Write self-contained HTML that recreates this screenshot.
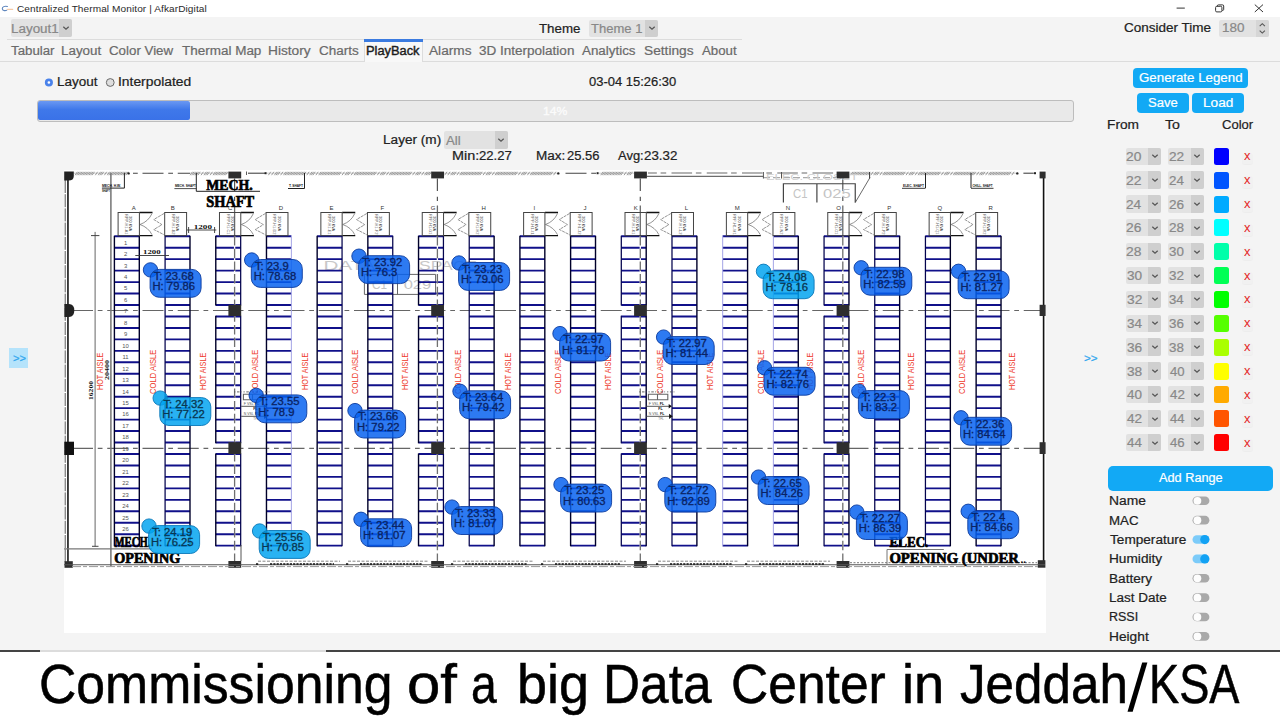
<!DOCTYPE html>
<html><head><meta charset="utf-8"><title>Centralized Thermal Monitor | AfkarDigital</title>
<style>
html,body{margin:0;padding:0;}
body{width:1280px;height:720px;overflow:hidden;background:#f4f4f4;font-family:"Liberation Sans",sans-serif;position:relative;}
.t{position:absolute;white-space:pre;transform-origin:0 50%;-webkit-text-stroke:0.2px;}
.ns{-webkit-text-stroke:0;}
.b{position:absolute;}
</style></head><body>
<div class="b" style="left:0.00px;top:0.00px;width:1280.00px;height:17.00px;background:#ffffff;"></div>
<span class="t ns" style="left:17.49px;top:3.96px;font-size:9.5px;line-height:9.5px;color:#2a2a2a;transform:scaleX(1.0600);letter-spacing:0.085px;">Centralized Thermal Monitor | AfkarDigital</span>
<svg class="b" style="left:0px;top:2px" width="16" height="14" viewBox="0 2 16 14"><path d="M7.4 6.5 C4.6 5.6 2.2 7 2.3 8.7 C2.4 10.5 4.9 11.1 6.7 10.3" fill="none" stroke="#5f86bd" stroke-width="1.1" stroke-linecap="round"/><path d="M7.6 9.4 L12.6 9.4" stroke="#f3b98a" stroke-width="1.3" stroke-linecap="round" opacity="0.75"/></svg>
<svg class="b" style="left:1160px;top:0px" width="120" height="17" viewBox="1160 0 120 17"><path d="M1176.6 8.1 H1184.8" stroke="#333" stroke-width="1"/><rect x="1215.6" y="6.3" width="6.3" height="5.6" fill="none" stroke="#333" stroke-width="1" rx="1.2"/><path d="M1217.3 6.3 V6 Q1217.3 4.9 1218.4 4.9 H1222.6 Q1223.7 4.9 1223.7 6 V9.4 Q1223.7 10.4 1222.6 10.4 H1222" fill="none" stroke="#333" stroke-width="1"/><path d="M1254.8 4.6 L1263 12 M1263 4.6 L1254.8 12" stroke="#333" stroke-width="1"/></svg>
<div class="b" style="left:11.00px;top:19.30px;width:61.30px;height:17.70px;background:#e2e2e2;border-radius:2px;"></div><div class="b" style="left:59.10px;top:19.30px;width:13.20px;height:17.70px;background:#cfcfcf;border-radius:0 2px 2px 0;"></div><svg class="b" style="left:61.70px;top:25.15px" width="8" height="6" viewBox="0 0 8 6"><path d="M1.3 1.8 L4 4.3 L6.7 1.8" fill="none" stroke="#555" stroke-width="1.2"/></svg><span class="t" style="left:10.90px;top:22.79px;font-size:12px;line-height:12px;color:#888;transform:scaleX(1.1183);">Layout1</span>
<span class="t" style="left:539.20px;top:22.59px;font-size:12px;line-height:12px;color:#222;transform:scaleX(1.1082);">Theme</span>
<div class="b" style="left:588.75px;top:19.50px;width:69.50px;height:17.50px;background:#e2e2e2;border-radius:2px;"></div><div class="b" style="left:645.25px;top:19.50px;width:13.00px;height:17.50px;background:#cfcfcf;border-radius:0 2px 2px 0;"></div><svg class="b" style="left:647.75px;top:25.25px" width="8" height="6" viewBox="0 0 8 6"><path d="M1.3 1.8 L4 4.3 L6.7 1.8" fill="none" stroke="#555" stroke-width="1.2"/></svg><span class="t" style="left:590.96px;top:22.89px;font-size:12px;line-height:12px;color:#888;transform:scaleX(1.0860);">Theme 1</span>
<span class="t" style="left:1124.31px;top:22.24px;font-size:12px;line-height:12px;color:#222;transform:scaleX(1.1257);">Consider Time</span>
<div class="b" style="left:1219.30px;top:19.60px;width:50.00px;height:17.30px;background:#e2e2e2;border-radius:2px;"></div>
<div class="b" style="left:1255.80px;top:19.60px;width:13.50px;height:17.30px;background:#d6d6d6;border-radius:0 2px 2px 0;"></div>
<span class="t" style="left:1221.58px;top:22.34px;font-size:12px;line-height:12px;color:#888;transform:scaleX(1.1213);">180</span>
<svg class="b" style="left:1256px;top:19px" width="13" height="18" viewBox="0 0 13 18"><path d="M3.7 7.2 L6.3 4.7 L8.9 7.2 M3.7 11.6 L6.3 14.1 L8.9 11.6" fill="none" stroke="#555" stroke-width="1.1"/></svg>
<div class="b" style="left:7.00px;top:39.00px;width:735.00px;height:1.00px;background:#dcdcdc;"></div>
<div class="b" style="left:0.00px;top:61.00px;width:1280.00px;height:1.00px;background:#dcdcdc;"></div>
<div class="b" style="left:364.30px;top:39.00px;width:59.00px;height:23.00px;background:#f8f8f8;border-left:1px solid #dcdcdc;border-right:1px solid #dcdcdc;box-sizing:border-box;"></div>
<div class="b" style="left:364.30px;top:39.20px;width:59.00px;height:2.50px;background:#3b7be0;"></div>
<span class="t" style="left:10.70px;top:44.59px;font-size:12px;line-height:12px;color:#6a6a6a;transform:scaleX(1.1057);">Tabular</span>
<span class="t" style="left:61.40px;top:44.59px;font-size:12px;line-height:12px;color:#6a6a6a;transform:scaleX(1.1157);">Layout</span>
<span class="t" style="left:109.32px;top:44.59px;font-size:12px;line-height:12px;color:#6a6a6a;transform:scaleX(1.1097);">Color View</span>
<span class="t" style="left:182.20px;top:44.59px;font-size:12px;line-height:12px;color:#6a6a6a;transform:scaleX(1.1228);">Thermal Map</span>
<span class="t" style="left:268.38px;top:44.59px;font-size:12px;line-height:12px;color:#6a6a6a;transform:scaleX(1.1424);">History</span>
<span class="t" style="left:318.82px;top:44.59px;font-size:12px;line-height:12px;color:#6a6a6a;transform:scaleX(1.1224);">Charts</span>
<span class="t" style="left:366.45px;top:44.59px;font-size:12px;line-height:12px;color:#1c1c1c;transform:scaleX(1.0702);-webkit-text-stroke:0.4px;">PlayBack</span>
<span class="t" style="left:428.97px;top:44.59px;font-size:12px;line-height:12px;color:#6a6a6a;transform:scaleX(1.1389);">Alarms</span>
<span class="t" style="left:478.99px;top:44.59px;font-size:12px;line-height:12px;color:#6a6a6a;transform:scaleX(1.1260);">3D Interpolation</span>
<span class="t" style="left:582.47px;top:44.59px;font-size:12px;line-height:12px;color:#6a6a6a;transform:scaleX(1.1144);">Analytics</span>
<span class="t" style="left:643.88px;top:44.59px;font-size:12px;line-height:12px;color:#6a6a6a;transform:scaleX(1.1444);">Settings</span>
<span class="t" style="left:702.47px;top:44.59px;font-size:12px;line-height:12px;color:#6a6a6a;transform:scaleX(1.1041);">About</span>
<svg class="b" style="left:40px;top:74px" width="80" height="18" viewBox="40 74 80 18"><circle cx="48.9" cy="82.5" r="2.7" fill="#fff" stroke="#4a82ea" stroke-width="2.7"/><circle cx="110.25" cy="82.5" r="3.9" fill="#dedede" stroke="#6a6a6a" stroke-width="1"/></svg>
<span class="t" style="left:56.64px;top:75.84px;font-size:12px;line-height:12px;color:#222;transform:scaleX(1.1228);">Layout</span>
<span class="t" style="left:118.12px;top:75.84px;font-size:12px;line-height:12px;color:#222;transform:scaleX(1.1545);">Interpolated</span>
<span class="t" style="left:588.74px;top:75.84px;font-size:12px;line-height:12px;color:#222;transform:scaleX(1.0808);">03-04 15:26:30</span>
<div class="b" style="left:37.00px;top:100.00px;width:1036.50px;height:21.50px;background:#e9e9e9;border:1px solid #bdbdbd;border-radius:3px;box-sizing:border-box;"></div>
<div class="b" style="left:38.00px;top:101.30px;width:152.00px;height:19.00px;background:linear-gradient(#6a98f2 0%,#3f78ea 45%,#3a72e8 100%);border-radius:2px;"></div>
<span class="t" style="left:542.82px;top:105.57px;font-size:11.5px;line-height:11.5px;color:#fbfbfb;transform:scaleX(1.0584);-webkit-text-stroke:0.35px;">14%</span>
<span class="t" style="left:383.38px;top:134.09px;font-size:12px;line-height:12px;color:#222;transform:scaleX(1.1338);">Layer (m)</span>
<div class="b" style="left:444.25px;top:131.25px;width:63.50px;height:17.25px;background:#e2e2e2;border-radius:2px;"></div><div class="b" style="left:494.75px;top:131.25px;width:13.00px;height:17.25px;background:#cfcfcf;border-radius:0 2px 2px 0;"></div><svg class="b" style="left:497.25px;top:136.88px" width="8" height="6" viewBox="0 0 8 6"><path d="M1.3 1.8 L4 4.3 L6.7 1.8" fill="none" stroke="#555" stroke-width="1.2"/></svg><span class="t" style="left:446.22px;top:134.52px;font-size:12px;line-height:12px;color:#888;transform:scaleX(1.0991);">All</span>
<span class="t" style="left:452.07px;top:150.34px;font-size:12px;line-height:12px;color:#222;transform:scaleX(1.2020);">Min:</span>
<span class="t" style="left:479.34px;top:150.34px;font-size:12px;line-height:12px;color:#222;transform:scaleX(1.0929);">22.27</span>
<span class="t" style="left:536.39px;top:150.34px;font-size:12px;line-height:12px;color:#222;transform:scaleX(1.1286);">Max:</span>
<span class="t" style="left:566.85px;top:150.34px;font-size:12px;line-height:12px;color:#222;transform:scaleX(1.0814);">25.56</span>
<span class="t" style="left:617.97px;top:150.34px;font-size:12px;line-height:12px;color:#222;transform:scaleX(1.0804);">Avg:</span>
<span class="t" style="left:644.33px;top:150.34px;font-size:12px;line-height:12px;color:#222;transform:scaleX(1.1102);">23.32</span>
<div class="b" style="left:9.25px;top:348.00px;width:18.75px;height:19.70px;background:#b5e3fb;"></div>
<span class="t" style="left:12.55px;top:352.69px;font-size:11px;line-height:11px;color:#2ea5ee;transform:scaleX(1.0197);">&gt;&gt;</span>
<span class="t" style="left:1084.12px;top:352.69px;font-size:11px;line-height:11px;color:#2ea5ee;transform:scaleX(1.0622);">&gt;&gt;</span>
<div class="b" style="left:1133.40px;top:68.00px;width:114.60px;height:20.40px;background:#12a9f5;border-radius:4px;"></div>
<span class="t" style="left:1139.03px;top:72.24px;font-size:12px;line-height:12px;color:#fff;transform:scaleX(1.1083);">Generate Legend</span>
<div class="b" style="left:1137.30px;top:92.60px;width:51.80px;height:20.10px;background:#12a9f5;border-radius:4px;"></div>
<span class="t" style="left:1148.41px;top:96.54px;font-size:12px;line-height:12px;color:#fff;transform:scaleX(1.0885);">Save</span>
<div class="b" style="left:1192.00px;top:92.60px;width:52.00px;height:20.10px;background:#12a9f5;border-radius:4px;"></div>
<span class="t" style="left:1202.88px;top:96.54px;font-size:12px;line-height:12px;color:#fff;transform:scaleX(1.1348);">Load</span>
<span class="t" style="left:1107.47px;top:118.84px;font-size:12px;line-height:12px;color:#222;transform:scaleX(1.1441);">From</span>
<span class="t" style="left:1164.88px;top:118.84px;font-size:12px;line-height:12px;color:#222;transform:scaleX(1.1764);">To</span>
<span class="t" style="left:1221.74px;top:118.84px;font-size:12px;line-height:12px;color:#222;transform:scaleX(1.0873);">Color</span>
<div class="b" style="left:1125.50px;top:147.60px;width:35.50px;height:17.20px;background:#e2e2e2;border-radius:2px;"></div><div class="b" style="left:1148.00px;top:147.60px;width:13.00px;height:17.20px;background:#cfcfcf;border-radius:0 2px 2px 0;"></div><svg class="b" style="left:1150.50px;top:153.20px" width="8" height="6" viewBox="0 0 8 6"><path d="M1.3 1.8 L4 4.3 L6.7 1.8" fill="none" stroke="#555" stroke-width="1.2"/></svg><span class="t" style="left:1126.41px;top:150.84px;font-size:12px;line-height:12px;color:#888;transform:scaleX(1.1486);">20</span>
<div class="b" style="left:1168.00px;top:147.60px;width:35.90px;height:17.20px;background:#e2e2e2;border-radius:2px;"></div><div class="b" style="left:1190.90px;top:147.60px;width:13.00px;height:17.20px;background:#cfcfcf;border-radius:0 2px 2px 0;"></div><svg class="b" style="left:1193.40px;top:153.20px" width="8" height="6" viewBox="0 0 8 6"><path d="M1.3 1.8 L4 4.3 L6.7 1.8" fill="none" stroke="#555" stroke-width="1.2"/></svg><span class="t" style="left:1169.11px;top:150.84px;font-size:12px;line-height:12px;color:#888;transform:scaleX(1.1367);">22</span>
<div class="b" style="left:1213.90px;top:147.80px;width:14.80px;height:17.00px;background:#0000ff;border-radius:2.5px;"></div>
<div class="b" style="left:1241.70px;top:152.60px;width:11.00px;height:11.70px;background:#f1f1f1;border-radius:3px;box-shadow:0 1px 1px rgba(0,0,0,0.03);"></div>
<span class="t ns" style="left:1244.05px;top:150.22px;font-size:12.5px;line-height:12.5px;color:#e42828;transform:scaleX(1.0376);">x</span>
<div class="b" style="left:1125.50px;top:171.46px;width:35.50px;height:17.20px;background:#e2e2e2;border-radius:2px;"></div><div class="b" style="left:1148.00px;top:171.46px;width:13.00px;height:17.20px;background:#cfcfcf;border-radius:0 2px 2px 0;"></div><svg class="b" style="left:1150.50px;top:177.06px" width="8" height="6" viewBox="0 0 8 6"><path d="M1.3 1.8 L4 4.3 L6.7 1.8" fill="none" stroke="#555" stroke-width="1.2"/></svg><span class="t" style="left:1126.40px;top:174.70px;font-size:12px;line-height:12px;color:#888;transform:scaleX(1.1614);">22</span>
<div class="b" style="left:1168.00px;top:171.46px;width:35.90px;height:17.20px;background:#e2e2e2;border-radius:2px;"></div><div class="b" style="left:1190.90px;top:171.46px;width:13.00px;height:17.20px;background:#cfcfcf;border-radius:0 2px 2px 0;"></div><svg class="b" style="left:1193.40px;top:177.06px" width="8" height="6" viewBox="0 0 8 6"><path d="M1.3 1.8 L4 4.3 L6.7 1.8" fill="none" stroke="#555" stroke-width="1.2"/></svg><span class="t" style="left:1169.13px;top:174.70px;font-size:12px;line-height:12px;color:#888;transform:scaleX(1.1136);">24</span>
<div class="b" style="left:1213.90px;top:171.66px;width:14.80px;height:17.00px;background:#0055ff;border-radius:2.5px;"></div>
<div class="b" style="left:1241.70px;top:176.46px;width:11.00px;height:11.70px;background:#f1f1f1;border-radius:3px;box-shadow:0 1px 1px rgba(0,0,0,0.03);"></div>
<span class="t ns" style="left:1244.05px;top:174.08px;font-size:12.5px;line-height:12.5px;color:#e42828;transform:scaleX(1.0376);">x</span>
<div class="b" style="left:1125.50px;top:195.32px;width:35.50px;height:17.20px;background:#e2e2e2;border-radius:2px;"></div><div class="b" style="left:1148.00px;top:195.32px;width:13.00px;height:17.20px;background:#cfcfcf;border-radius:0 2px 2px 0;"></div><svg class="b" style="left:1150.50px;top:200.92px" width="8" height="6" viewBox="0 0 8 6"><path d="M1.3 1.8 L4 4.3 L6.7 1.8" fill="none" stroke="#555" stroke-width="1.2"/></svg><span class="t" style="left:1126.41px;top:198.56px;font-size:12px;line-height:12px;color:#888;transform:scaleX(1.1378);">24</span>
<div class="b" style="left:1168.00px;top:195.32px;width:35.90px;height:17.20px;background:#e2e2e2;border-radius:2px;"></div><div class="b" style="left:1190.90px;top:195.32px;width:13.00px;height:17.20px;background:#cfcfcf;border-radius:0 2px 2px 0;"></div><svg class="b" style="left:1193.40px;top:200.92px" width="8" height="6" viewBox="0 0 8 6"><path d="M1.3 1.8 L4 4.3 L6.7 1.8" fill="none" stroke="#555" stroke-width="1.2"/></svg><span class="t" style="left:1169.12px;top:198.56px;font-size:12px;line-height:12px;color:#888;transform:scaleX(1.1296);">26</span>
<div class="b" style="left:1213.90px;top:195.52px;width:14.80px;height:17.00px;background:#00aaff;border-radius:2.5px;"></div>
<div class="b" style="left:1241.70px;top:200.32px;width:11.00px;height:11.70px;background:#f1f1f1;border-radius:3px;box-shadow:0 1px 1px rgba(0,0,0,0.03);"></div>
<span class="t ns" style="left:1244.05px;top:197.94px;font-size:12.5px;line-height:12.5px;color:#e42828;transform:scaleX(1.0376);">x</span>
<div class="b" style="left:1125.50px;top:219.18px;width:35.50px;height:17.20px;background:#e2e2e2;border-radius:2px;"></div><div class="b" style="left:1148.00px;top:219.18px;width:13.00px;height:17.20px;background:#cfcfcf;border-radius:0 2px 2px 0;"></div><svg class="b" style="left:1150.50px;top:224.78px" width="8" height="6" viewBox="0 0 8 6"><path d="M1.3 1.8 L4 4.3 L6.7 1.8" fill="none" stroke="#555" stroke-width="1.2"/></svg><span class="t" style="left:1126.40px;top:222.42px;font-size:12px;line-height:12px;color:#888;transform:scaleX(1.1541);">26</span>
<div class="b" style="left:1168.00px;top:219.18px;width:35.90px;height:17.20px;background:#e2e2e2;border-radius:2px;"></div><div class="b" style="left:1190.90px;top:219.18px;width:13.00px;height:17.20px;background:#cfcfcf;border-radius:0 2px 2px 0;"></div><svg class="b" style="left:1193.40px;top:224.78px" width="8" height="6" viewBox="0 0 8 6"><path d="M1.3 1.8 L4 4.3 L6.7 1.8" fill="none" stroke="#555" stroke-width="1.2"/></svg><span class="t" style="left:1169.12px;top:222.42px;font-size:12px;line-height:12px;color:#888;transform:scaleX(1.1290);">28</span>
<div class="b" style="left:1213.90px;top:219.38px;width:14.80px;height:17.00px;background:#00ffff;border-radius:2.5px;"></div>
<div class="b" style="left:1241.70px;top:224.18px;width:11.00px;height:11.70px;background:#f1f1f1;border-radius:3px;box-shadow:0 1px 1px rgba(0,0,0,0.03);"></div>
<span class="t ns" style="left:1244.05px;top:221.80px;font-size:12.5px;line-height:12.5px;color:#e42828;transform:scaleX(1.0376);">x</span>
<div class="b" style="left:1125.50px;top:243.04px;width:35.50px;height:17.20px;background:#e2e2e2;border-radius:2px;"></div><div class="b" style="left:1148.00px;top:243.04px;width:13.00px;height:17.20px;background:#cfcfcf;border-radius:0 2px 2px 0;"></div><svg class="b" style="left:1150.50px;top:248.64px" width="8" height="6" viewBox="0 0 8 6"><path d="M1.3 1.8 L4 4.3 L6.7 1.8" fill="none" stroke="#555" stroke-width="1.2"/></svg><span class="t" style="left:1126.40px;top:246.28px;font-size:12px;line-height:12px;color:#888;transform:scaleX(1.1536);">28</span>
<div class="b" style="left:1168.00px;top:243.04px;width:35.90px;height:17.20px;background:#e2e2e2;border-radius:2px;"></div><div class="b" style="left:1190.90px;top:243.04px;width:13.00px;height:17.20px;background:#cfcfcf;border-radius:0 2px 2px 0;"></div><svg class="b" style="left:1193.40px;top:248.64px" width="8" height="6" viewBox="0 0 8 6"><path d="M1.3 1.8 L4 4.3 L6.7 1.8" fill="none" stroke="#555" stroke-width="1.2"/></svg><span class="t" style="left:1169.29px;top:246.28px;font-size:12px;line-height:12px;color:#888;transform:scaleX(1.1109);">30</span>
<div class="b" style="left:1213.90px;top:243.24px;width:14.80px;height:17.00px;background:#00ffaa;border-radius:2.5px;"></div>
<div class="b" style="left:1241.70px;top:248.04px;width:11.00px;height:11.70px;background:#f1f1f1;border-radius:3px;box-shadow:0 1px 1px rgba(0,0,0,0.03);"></div>
<span class="t ns" style="left:1244.05px;top:245.66px;font-size:12.5px;line-height:12.5px;color:#e42828;transform:scaleX(1.0376);">x</span>
<div class="b" style="left:1125.50px;top:266.90px;width:35.50px;height:17.20px;background:#e2e2e2;border-radius:2px;"></div><div class="b" style="left:1148.00px;top:266.90px;width:13.00px;height:17.20px;background:#cfcfcf;border-radius:0 2px 2px 0;"></div><svg class="b" style="left:1150.50px;top:272.50px" width="8" height="6" viewBox="0 0 8 6"><path d="M1.3 1.8 L4 4.3 L6.7 1.8" fill="none" stroke="#555" stroke-width="1.2"/></svg><span class="t" style="left:1126.58px;top:270.14px;font-size:12px;line-height:12px;color:#888;transform:scaleX(1.1351);">30</span>
<div class="b" style="left:1168.00px;top:266.90px;width:35.90px;height:17.20px;background:#e2e2e2;border-radius:2px;"></div><div class="b" style="left:1190.90px;top:266.90px;width:13.00px;height:17.20px;background:#cfcfcf;border-radius:0 2px 2px 0;"></div><svg class="b" style="left:1193.40px;top:272.50px" width="8" height="6" viewBox="0 0 8 6"><path d="M1.3 1.8 L4 4.3 L6.7 1.8" fill="none" stroke="#555" stroke-width="1.2"/></svg><span class="t" style="left:1169.29px;top:270.14px;font-size:12px;line-height:12px;color:#888;transform:scaleX(1.1231);">32</span>
<div class="b" style="left:1213.90px;top:267.10px;width:14.80px;height:17.00px;background:#00ff55;border-radius:2.5px;"></div>
<div class="b" style="left:1241.70px;top:271.90px;width:11.00px;height:11.70px;background:#f1f1f1;border-radius:3px;box-shadow:0 1px 1px rgba(0,0,0,0.03);"></div>
<span class="t ns" style="left:1244.05px;top:269.52px;font-size:12.5px;line-height:12.5px;color:#e42828;transform:scaleX(1.0376);">x</span>
<div class="b" style="left:1125.50px;top:290.76px;width:35.50px;height:17.20px;background:#e2e2e2;border-radius:2px;"></div><div class="b" style="left:1148.00px;top:290.76px;width:13.00px;height:17.20px;background:#cfcfcf;border-radius:0 2px 2px 0;"></div><svg class="b" style="left:1150.50px;top:296.36px" width="8" height="6" viewBox="0 0 8 6"><path d="M1.3 1.8 L4 4.3 L6.7 1.8" fill="none" stroke="#555" stroke-width="1.2"/></svg><span class="t" style="left:1126.58px;top:294.00px;font-size:12px;line-height:12px;color:#888;transform:scaleX(1.1475);">32</span>
<div class="b" style="left:1168.00px;top:290.76px;width:35.90px;height:17.20px;background:#e2e2e2;border-radius:2px;"></div><div class="b" style="left:1190.90px;top:290.76px;width:13.00px;height:17.20px;background:#cfcfcf;border-radius:0 2px 2px 0;"></div><svg class="b" style="left:1193.40px;top:296.36px" width="8" height="6" viewBox="0 0 8 6"><path d="M1.3 1.8 L4 4.3 L6.7 1.8" fill="none" stroke="#555" stroke-width="1.2"/></svg><span class="t" style="left:1169.30px;top:294.00px;font-size:12px;line-height:12px;color:#888;transform:scaleX(1.1006);">34</span>
<div class="b" style="left:1213.90px;top:290.96px;width:14.80px;height:17.00px;background:#00ff00;border-radius:2.5px;"></div>
<div class="b" style="left:1241.70px;top:295.76px;width:11.00px;height:11.70px;background:#f1f1f1;border-radius:3px;box-shadow:0 1px 1px rgba(0,0,0,0.03);"></div>
<span class="t ns" style="left:1244.05px;top:293.38px;font-size:12.5px;line-height:12.5px;color:#e42828;transform:scaleX(1.0376);">x</span>
<div class="b" style="left:1125.50px;top:314.62px;width:35.50px;height:17.20px;background:#e2e2e2;border-radius:2px;"></div><div class="b" style="left:1148.00px;top:314.62px;width:13.00px;height:17.20px;background:#cfcfcf;border-radius:0 2px 2px 0;"></div><svg class="b" style="left:1150.50px;top:320.22px" width="8" height="6" viewBox="0 0 8 6"><path d="M1.3 1.8 L4 4.3 L6.7 1.8" fill="none" stroke="#555" stroke-width="1.2"/></svg><span class="t" style="left:1126.59px;top:317.86px;font-size:12px;line-height:12px;color:#888;transform:scaleX(1.1245);">34</span>
<div class="b" style="left:1168.00px;top:314.62px;width:35.90px;height:17.20px;background:#e2e2e2;border-radius:2px;"></div><div class="b" style="left:1190.90px;top:314.62px;width:13.00px;height:17.20px;background:#cfcfcf;border-radius:0 2px 2px 0;"></div><svg class="b" style="left:1193.40px;top:320.22px" width="8" height="6" viewBox="0 0 8 6"><path d="M1.3 1.8 L4 4.3 L6.7 1.8" fill="none" stroke="#555" stroke-width="1.2"/></svg><span class="t" style="left:1169.29px;top:317.86px;font-size:12px;line-height:12px;color:#888;transform:scaleX(1.1162);">36</span>
<div class="b" style="left:1213.90px;top:314.82px;width:14.80px;height:17.00px;background:#55ff00;border-radius:2.5px;"></div>
<div class="b" style="left:1241.70px;top:319.62px;width:11.00px;height:11.70px;background:#f1f1f1;border-radius:3px;box-shadow:0 1px 1px rgba(0,0,0,0.03);"></div>
<span class="t ns" style="left:1244.05px;top:317.24px;font-size:12.5px;line-height:12.5px;color:#e42828;transform:scaleX(1.0376);">x</span>
<div class="b" style="left:1125.50px;top:338.48px;width:35.50px;height:17.20px;background:#e2e2e2;border-radius:2px;"></div><div class="b" style="left:1148.00px;top:338.48px;width:13.00px;height:17.20px;background:#cfcfcf;border-radius:0 2px 2px 0;"></div><svg class="b" style="left:1150.50px;top:344.08px" width="8" height="6" viewBox="0 0 8 6"><path d="M1.3 1.8 L4 4.3 L6.7 1.8" fill="none" stroke="#555" stroke-width="1.2"/></svg><span class="t" style="left:1126.58px;top:341.72px;font-size:12px;line-height:12px;color:#888;transform:scaleX(1.1405);">36</span>
<div class="b" style="left:1168.00px;top:338.48px;width:35.90px;height:17.20px;background:#e2e2e2;border-radius:2px;"></div><div class="b" style="left:1190.90px;top:338.48px;width:13.00px;height:17.20px;background:#cfcfcf;border-radius:0 2px 2px 0;"></div><svg class="b" style="left:1193.40px;top:344.08px" width="8" height="6" viewBox="0 0 8 6"><path d="M1.3 1.8 L4 4.3 L6.7 1.8" fill="none" stroke="#555" stroke-width="1.2"/></svg><span class="t" style="left:1169.29px;top:341.72px;font-size:12px;line-height:12px;color:#888;transform:scaleX(1.1157);">38</span>
<div class="b" style="left:1213.90px;top:338.68px;width:14.80px;height:17.00px;background:#aaff00;border-radius:2.5px;"></div>
<div class="b" style="left:1241.70px;top:343.48px;width:11.00px;height:11.70px;background:#f1f1f1;border-radius:3px;box-shadow:0 1px 1px rgba(0,0,0,0.03);"></div>
<span class="t ns" style="left:1244.05px;top:341.10px;font-size:12.5px;line-height:12.5px;color:#e42828;transform:scaleX(1.0376);">x</span>
<div class="b" style="left:1125.50px;top:362.34px;width:35.50px;height:17.20px;background:#e2e2e2;border-radius:2px;"></div><div class="b" style="left:1148.00px;top:362.34px;width:13.00px;height:17.20px;background:#cfcfcf;border-radius:0 2px 2px 0;"></div><svg class="b" style="left:1150.50px;top:367.94px" width="8" height="6" viewBox="0 0 8 6"><path d="M1.3 1.8 L4 4.3 L6.7 1.8" fill="none" stroke="#555" stroke-width="1.2"/></svg><span class="t" style="left:1126.58px;top:365.58px;font-size:12px;line-height:12px;color:#888;transform:scaleX(1.1399);">38</span>
<div class="b" style="left:1168.00px;top:362.34px;width:35.90px;height:17.20px;background:#e2e2e2;border-radius:2px;"></div><div class="b" style="left:1190.90px;top:362.34px;width:13.00px;height:17.20px;background:#cfcfcf;border-radius:0 2px 2px 0;"></div><svg class="b" style="left:1193.40px;top:367.94px" width="8" height="6" viewBox="0 0 8 6"><path d="M1.3 1.8 L4 4.3 L6.7 1.8" fill="none" stroke="#555" stroke-width="1.2"/></svg><span class="t" style="left:1169.50px;top:365.58px;font-size:12px;line-height:12px;color:#888;transform:scaleX(1.0949);">40</span>
<div class="b" style="left:1213.90px;top:362.54px;width:14.80px;height:17.00px;background:#ffff00;border-radius:2.5px;"></div>
<div class="b" style="left:1241.70px;top:367.34px;width:11.00px;height:11.70px;background:#f1f1f1;border-radius:3px;box-shadow:0 1px 1px rgba(0,0,0,0.03);"></div>
<span class="t ns" style="left:1244.05px;top:364.96px;font-size:12.5px;line-height:12.5px;color:#e42828;transform:scaleX(1.0376);">x</span>
<div class="b" style="left:1125.50px;top:386.20px;width:35.50px;height:17.20px;background:#e2e2e2;border-radius:2px;"></div><div class="b" style="left:1148.00px;top:386.20px;width:13.00px;height:17.20px;background:#cfcfcf;border-radius:0 2px 2px 0;"></div><svg class="b" style="left:1150.50px;top:391.80px" width="8" height="6" viewBox="0 0 8 6"><path d="M1.3 1.8 L4 4.3 L6.7 1.8" fill="none" stroke="#555" stroke-width="1.2"/></svg><span class="t" style="left:1126.79px;top:389.44px;font-size:12px;line-height:12px;color:#888;transform:scaleX(1.1187);">40</span>
<div class="b" style="left:1168.00px;top:386.20px;width:35.90px;height:17.20px;background:#e2e2e2;border-radius:2px;"></div><div class="b" style="left:1190.90px;top:386.20px;width:13.00px;height:17.20px;background:#cfcfcf;border-radius:0 2px 2px 0;"></div><svg class="b" style="left:1193.40px;top:391.80px" width="8" height="6" viewBox="0 0 8 6"><path d="M1.3 1.8 L4 4.3 L6.7 1.8" fill="none" stroke="#555" stroke-width="1.2"/></svg><span class="t" style="left:1169.50px;top:389.44px;font-size:12px;line-height:12px;color:#888;transform:scaleX(1.1068);">42</span>
<div class="b" style="left:1213.90px;top:386.40px;width:14.80px;height:17.00px;background:#ffaa00;border-radius:2.5px;"></div>
<div class="b" style="left:1241.70px;top:391.20px;width:11.00px;height:11.70px;background:#f1f1f1;border-radius:3px;box-shadow:0 1px 1px rgba(0,0,0,0.03);"></div>
<span class="t ns" style="left:1244.05px;top:388.82px;font-size:12.5px;line-height:12.5px;color:#e42828;transform:scaleX(1.0376);">x</span>
<div class="b" style="left:1125.50px;top:410.06px;width:35.50px;height:17.20px;background:#e2e2e2;border-radius:2px;"></div><div class="b" style="left:1148.00px;top:410.06px;width:13.00px;height:17.20px;background:#cfcfcf;border-radius:0 2px 2px 0;"></div><svg class="b" style="left:1150.50px;top:415.66px" width="8" height="6" viewBox="0 0 8 6"><path d="M1.3 1.8 L4 4.3 L6.7 1.8" fill="none" stroke="#555" stroke-width="1.2"/></svg><span class="t" style="left:1126.79px;top:413.30px;font-size:12px;line-height:12px;color:#888;transform:scaleX(1.1308);">42</span>
<div class="b" style="left:1168.00px;top:410.06px;width:35.90px;height:17.20px;background:#e2e2e2;border-radius:2px;"></div><div class="b" style="left:1190.90px;top:410.06px;width:13.00px;height:17.20px;background:#cfcfcf;border-radius:0 2px 2px 0;"></div><svg class="b" style="left:1193.40px;top:415.66px" width="8" height="6" viewBox="0 0 8 6"><path d="M1.3 1.8 L4 4.3 L6.7 1.8" fill="none" stroke="#555" stroke-width="1.2"/></svg><span class="t" style="left:1169.50px;top:413.30px;font-size:12px;line-height:12px;color:#888;transform:scaleX(1.0848);">44</span>
<div class="b" style="left:1213.90px;top:410.26px;width:14.80px;height:17.00px;background:#ff5500;border-radius:2.5px;"></div>
<div class="b" style="left:1241.70px;top:415.06px;width:11.00px;height:11.70px;background:#f1f1f1;border-radius:3px;box-shadow:0 1px 1px rgba(0,0,0,0.03);"></div>
<span class="t ns" style="left:1244.05px;top:412.68px;font-size:12.5px;line-height:12.5px;color:#e42828;transform:scaleX(1.0376);">x</span>
<div class="b" style="left:1125.50px;top:433.92px;width:35.50px;height:17.20px;background:#e2e2e2;border-radius:2px;"></div><div class="b" style="left:1148.00px;top:433.92px;width:13.00px;height:17.20px;background:#cfcfcf;border-radius:0 2px 2px 0;"></div><svg class="b" style="left:1150.50px;top:439.52px" width="8" height="6" viewBox="0 0 8 6"><path d="M1.3 1.8 L4 4.3 L6.7 1.8" fill="none" stroke="#555" stroke-width="1.2"/></svg><span class="t" style="left:1126.79px;top:437.16px;font-size:12px;line-height:12px;color:#888;transform:scaleX(1.1084);">44</span>
<div class="b" style="left:1168.00px;top:433.92px;width:35.90px;height:17.20px;background:#e2e2e2;border-radius:2px;"></div><div class="b" style="left:1190.90px;top:433.92px;width:13.00px;height:17.20px;background:#cfcfcf;border-radius:0 2px 2px 0;"></div><svg class="b" style="left:1193.40px;top:439.52px" width="8" height="6" viewBox="0 0 8 6"><path d="M1.3 1.8 L4 4.3 L6.7 1.8" fill="none" stroke="#555" stroke-width="1.2"/></svg><span class="t" style="left:1169.50px;top:437.16px;font-size:12px;line-height:12px;color:#888;transform:scaleX(1.1000);">46</span>
<div class="b" style="left:1213.90px;top:434.12px;width:14.80px;height:17.00px;background:#ff0000;border-radius:2.5px;"></div>
<div class="b" style="left:1241.70px;top:438.92px;width:11.00px;height:11.70px;background:#f1f1f1;border-radius:3px;box-shadow:0 1px 1px rgba(0,0,0,0.03);"></div>
<span class="t ns" style="left:1244.05px;top:436.54px;font-size:12.5px;line-height:12.5px;color:#e42828;transform:scaleX(1.0376);">x</span>
<div class="b" style="left:1108.00px;top:465.60px;width:165.30px;height:25.00px;background:#12a9f5;border-radius:5px;"></div>
<span class="t" style="left:1159.38px;top:472.04px;font-size:12px;line-height:12px;color:#fff;transform:scaleX(1.0607);">Add Range</span>
<span class="t" style="left:1109.26px;top:495.24px;font-size:12px;line-height:12px;color:#222;transform:scaleX(1.1544);">Name</span>
<span class="t" style="left:1109.31px;top:514.61px;font-size:12px;line-height:12px;color:#222;transform:scaleX(1.1061);">MAC</span>
<span class="t" style="left:1110.09px;top:533.98px;font-size:12px;line-height:12px;color:#222;transform:scaleX(1.1343);">Temperature</span>
<span class="t" style="left:1109.28px;top:553.35px;font-size:12px;line-height:12px;color:#222;transform:scaleX(1.1386);">Humidity</span>
<span class="t" style="left:1109.28px;top:572.72px;font-size:12px;line-height:12px;color:#222;transform:scaleX(1.1349);">Battery</span>
<span class="t" style="left:1109.29px;top:592.09px;font-size:12px;line-height:12px;color:#222;transform:scaleX(1.1235);">Last Date</span>
<span class="t" style="left:1109.37px;top:611.46px;font-size:12px;line-height:12px;color:#222;transform:scaleX(1.0418);">RSSI</span>
<span class="t" style="left:1109.27px;top:630.83px;font-size:12px;line-height:12px;color:#222;transform:scaleX(1.1453);">Height</span>
<svg class="b" style="left:1185px;top:490px" width="40" height="160" viewBox="1185 490 40 160"><rect x="1192.5" y="496.50" width="16.9" height="8.6" rx="4.3" fill="#a9a9a9"/><circle cx="1197.4" cy="500.80" r="3.9" fill="#fdfdfd"/><rect x="1192.5" y="515.87" width="16.9" height="8.6" rx="4.3" fill="#a9a9a9"/><circle cx="1197.4" cy="520.17" r="3.9" fill="#fdfdfd"/><rect x="1192.5" y="535.24" width="16.9" height="8.6" rx="4.3" fill="#7ccbf9"/><circle cx="1204.8" cy="539.54" r="4.6" fill="#12a2f4"/><rect x="1192.5" y="554.61" width="16.9" height="8.6" rx="4.3" fill="#7ccbf9"/><circle cx="1204.8" cy="558.91" r="4.6" fill="#12a2f4"/><rect x="1192.5" y="573.98" width="16.9" height="8.6" rx="4.3" fill="#a9a9a9"/><circle cx="1197.4" cy="578.28" r="3.9" fill="#fdfdfd"/><rect x="1192.5" y="593.35" width="16.9" height="8.6" rx="4.3" fill="#a9a9a9"/><circle cx="1197.4" cy="597.65" r="3.9" fill="#fdfdfd"/><rect x="1192.5" y="612.72" width="16.9" height="8.6" rx="4.3" fill="#a9a9a9"/><circle cx="1197.4" cy="617.02" r="3.9" fill="#fdfdfd"/><rect x="1192.5" y="632.09" width="16.9" height="8.6" rx="4.3" fill="#a9a9a9"/><circle cx="1197.4" cy="636.39" r="3.9" fill="#fdfdfd"/></svg>
<div class="b" style="left:63.60px;top:170.00px;width:982.20px;height:463.00px;background:#ffffff;"></div>
<svg class="b" style="left:0;top:0" width="1280" height="720" viewBox="0 0 1280 720" font-family="Liberation Sans, sans-serif"><path d="M69.00 310.50L1043.00 310.50" stroke="#666" stroke-width="1.15" stroke-dasharray="21 4.75 4.75 4.75" stroke-dashoffset="32.25"/>
<path d="M69.00 448.30L1043.00 448.30" stroke="#666" stroke-width="1.15" stroke-dasharray="21 4.75 4.75 4.75" stroke-dashoffset="32.25"/>
<path d="M234.60 178.40L234.60 205.50" stroke="#555" stroke-width="1.2" stroke-dasharray="12.6 5.7 4.3 4.5"/>
<path d="M234.60 205.50L234.60 236.00" stroke="#6a6a6a" stroke-width="1.3" />
<path d="M437.40 178.40L437.40 205.50" stroke="#555" stroke-width="1.2" stroke-dasharray="12.6 5.7 4.3 4.5"/>
<path d="M437.40 205.50L437.40 236.00" stroke="#6a6a6a" stroke-width="1.3" />
<path d="M640.30 178.40L640.30 205.50" stroke="#555" stroke-width="1.2" stroke-dasharray="12.6 5.7 4.3 4.5"/>
<path d="M640.30 205.50L640.30 236.00" stroke="#6a6a6a" stroke-width="1.3" />
<path d="M842.80 178.40L842.80 205.50" stroke="#555" stroke-width="1.2" stroke-dasharray="12.6 5.7 4.3 4.5"/>
<path d="M842.80 205.50L842.80 236.00" stroke="#6a6a6a" stroke-width="1.3" />
<path d="M65.20 180.00L65.20 562.00" stroke="#444" stroke-width="0.9" stroke-dasharray="13 1.2"/>
<path d="M67.95 178.00L67.95 562.00" stroke="#222" stroke-width="1.7" />
<path d="M1043.60 172.00L1043.60 566.00" stroke="#111" stroke-width="1.6" />
<path d="M110.90 173.00L110.90 566.00" stroke="#747474" stroke-width="1.5" />
<path d="M64.00 548.90L152.00 548.90" stroke="#777" stroke-width="1.2" />
<path d="M95.10 231.90L95.10 546.50" stroke="#666" stroke-width="1" />
<path d="M91.00 235.60L99.40 235.60" stroke="#444" stroke-width="1" />
<path d="M92.00 546.30L98.50 546.30" stroke="#444" stroke-width="1" />
<text x="0.00" y="0.00" font-size="6" fill="#111" text-anchor="start" font-family="Liberation Serif" font-weight="bold" textLength="19.00" lengthAdjust="spacingAndGlyphs" transform="translate(93.2,400) rotate(-90)">16200</text>
<text x="0.00" y="0.00" font-size="6" fill="#111" text-anchor="start" font-family="Liberation Serif" font-weight="bold" textLength="20.00" lengthAdjust="spacingAndGlyphs" transform="translate(109.3,380) rotate(-90)">20400</text>
<path d="M75.10 175.20l2.3 -3.4M76.65 175.20l2.3 -3.4M78.20 175.20l2.3 -3.4M79.75 175.20l2.3 -3.4M81.30 175.20l2.3 -3.4M82.85 175.20l2.3 -3.4M84.40 175.20l2.3 -3.4M85.95 175.20l2.3 -3.4M87.50 175.20l2.3 -3.4M89.05 175.20l2.3 -3.4M90.60 175.20l2.3 -3.4M92.15 175.20l2.3 -3.4M95.30 175.20l2.3 -3.4M98.20 175.20l2.3 -3.4M99.80 175.20l2.3 -3.4M101.40 175.20l2.3 -3.4M104.40 175.20l2.3 -3.4M107.25 175.20l2.3 -3.4M108.80 175.20l2.3 -3.4M110.35 175.20l2.3 -3.4M111.90 175.20l2.3 -3.4M113.45 175.20l2.3 -3.4M115.00 175.20l2.3 -3.4M116.55 175.20l2.3 -3.4M118.10 175.20l2.3 -3.4M119.65 175.20l2.3 -3.4M121.20 175.20l2.3 -3.4M122.75 175.20l2.3 -3.4M124.30 175.20l2.3 -3.4M125.85 175.20l2.3 -3.4" stroke="#666" stroke-width="0.65" fill="none"/>
<path d="M74.00 173.20L128.00 173.20" stroke="#999" stroke-width="0.5" />
<path d="M131.00 173.20L190.00 173.20" stroke="#444" stroke-width="1.1" stroke-dasharray="21 4.75 4.75 4.75" stroke-dashoffset="23.75"/>
<path d="M190.15 175.20l2.3 -3.4M191.70 175.20l2.3 -3.4M193.25 175.20l2.3 -3.4M194.80 175.20l2.3 -3.4M196.35 175.20l2.3 -3.4M197.90 175.20l2.3 -3.4M201.05 175.20l2.3 -3.4M203.95 175.20l2.3 -3.4M205.55 175.20l2.3 -3.4M207.15 175.20l2.3 -3.4M210.15 175.20l2.3 -3.4M213.00 175.20l2.3 -3.4M214.55 175.20l2.3 -3.4M216.10 175.20l2.3 -3.4M217.65 175.20l2.3 -3.4M219.20 175.20l2.3 -3.4M220.75 175.20l2.3 -3.4M222.30 175.20l2.3 -3.4M223.85 175.20l2.3 -3.4M225.40 175.20l2.3 -3.4" stroke="#666" stroke-width="0.65" fill="none"/>
<path d="M190.00 173.20L228.40 173.20" stroke="#999" stroke-width="0.5" />
<path d="M246.50 171.50L246.50 175.00" stroke="#333" stroke-width="0.8" />
<path d="M248.00 173.20L265.30 173.20" stroke="#333" stroke-width="1.0" />
<rect x="264.60" y="172.20" width="2.00" height="2.00" fill="#222" stroke="none" stroke-width="1" />
<path d="M268.40 175.20l2.3 -3.4M271.55 175.20l2.3 -3.4M274.45 175.20l2.3 -3.4M276.05 175.20l2.3 -3.4M277.65 175.20l2.3 -3.4M280.65 175.20l2.3 -3.4M283.50 175.20l2.3 -3.4M285.05 175.20l2.3 -3.4M286.60 175.20l2.3 -3.4M288.15 175.20l2.3 -3.4M289.70 175.20l2.3 -3.4M291.25 175.20l2.3 -3.4M292.80 175.20l2.3 -3.4M294.35 175.20l2.3 -3.4M295.90 175.20l2.3 -3.4M297.45 175.20l2.3 -3.4M299.00 175.20l2.3 -3.4M300.55 175.20l2.3 -3.4M302.10 175.20l2.3 -3.4M303.65 175.20l2.3 -3.4M306.80 175.20l2.3 -3.4M309.70 175.20l2.3 -3.4M311.30 175.20l2.3 -3.4M312.90 175.20l2.3 -3.4M315.90 175.20l2.3 -3.4M318.75 175.20l2.3 -3.4M320.30 175.20l2.3 -3.4M321.85 175.20l2.3 -3.4M323.40 175.20l2.3 -3.4M324.95 175.20l2.3 -3.4M326.50 175.20l2.3 -3.4M328.05 175.20l2.3 -3.4M329.60 175.20l2.3 -3.4M331.15 175.20l2.3 -3.4M332.70 175.20l2.3 -3.4M334.25 175.20l2.3 -3.4M335.80 175.20l2.3 -3.4M337.35 175.20l2.3 -3.4M338.90 175.20l2.3 -3.4M342.05 175.20l2.3 -3.4M344.95 175.20l2.3 -3.4M346.55 175.20l2.3 -3.4M348.15 175.20l2.3 -3.4M351.15 175.20l2.3 -3.4M354.00 175.20l2.3 -3.4M355.55 175.20l2.3 -3.4M357.10 175.20l2.3 -3.4M358.65 175.20l2.3 -3.4M360.20 175.20l2.3 -3.4M361.75 175.20l2.3 -3.4M363.30 175.20l2.3 -3.4M364.85 175.20l2.3 -3.4M366.40 175.20l2.3 -3.4M367.95 175.20l2.3 -3.4M369.50 175.20l2.3 -3.4M371.05 175.20l2.3 -3.4M372.60 175.20l2.3 -3.4M374.15 175.20l2.3 -3.4M377.30 175.20l2.3 -3.4M380.20 175.20l2.3 -3.4M381.80 175.20l2.3 -3.4M383.40 175.20l2.3 -3.4M386.40 175.20l2.3 -3.4M389.25 175.20l2.3 -3.4M390.80 175.20l2.3 -3.4M392.35 175.20l2.3 -3.4M393.90 175.20l2.3 -3.4M395.45 175.20l2.3 -3.4M397.00 175.20l2.3 -3.4M398.55 175.20l2.3 -3.4M400.10 175.20l2.3 -3.4M401.65 175.20l2.3 -3.4M403.20 175.20l2.3 -3.4M404.75 175.20l2.3 -3.4M406.30 175.20l2.3 -3.4M407.85 175.20l2.3 -3.4M409.40 175.20l2.3 -3.4M412.55 175.20l2.3 -3.4M415.45 175.20l2.3 -3.4M417.05 175.20l2.3 -3.4M418.65 175.20l2.3 -3.4M421.65 175.20l2.3 -3.4M424.50 175.20l2.3 -3.4M426.05 175.20l2.3 -3.4M427.60 175.20l2.3 -3.4M429.15 175.20l2.3 -3.4" stroke="#666" stroke-width="0.65" fill="none"/>
<path d="M267.00 173.20L431.20 173.20" stroke="#999" stroke-width="0.5" />
<path d="M444.65 175.20l2.3 -3.4M447.80 175.20l2.3 -3.4M450.70 175.20l2.3 -3.4M452.30 175.20l2.3 -3.4M453.90 175.20l2.3 -3.4M456.90 175.20l2.3 -3.4M459.75 175.20l2.3 -3.4M461.30 175.20l2.3 -3.4M462.85 175.20l2.3 -3.4M464.40 175.20l2.3 -3.4M465.95 175.20l2.3 -3.4M467.50 175.20l2.3 -3.4M469.05 175.20l2.3 -3.4M470.60 175.20l2.3 -3.4M472.15 175.20l2.3 -3.4M473.70 175.20l2.3 -3.4M475.25 175.20l2.3 -3.4M476.80 175.20l2.3 -3.4M478.35 175.20l2.3 -3.4M479.90 175.20l2.3 -3.4M483.05 175.20l2.3 -3.4M485.95 175.20l2.3 -3.4M487.55 175.20l2.3 -3.4M489.15 175.20l2.3 -3.4M492.15 175.20l2.3 -3.4M495.00 175.20l2.3 -3.4M496.55 175.20l2.3 -3.4M498.10 175.20l2.3 -3.4M499.65 175.20l2.3 -3.4M501.20 175.20l2.3 -3.4M502.75 175.20l2.3 -3.4M504.30 175.20l2.3 -3.4M505.85 175.20l2.3 -3.4M507.40 175.20l2.3 -3.4M508.95 175.20l2.3 -3.4M510.50 175.20l2.3 -3.4M512.05 175.20l2.3 -3.4M513.60 175.20l2.3 -3.4M515.15 175.20l2.3 -3.4M518.30 175.20l2.3 -3.4M521.20 175.20l2.3 -3.4M522.80 175.20l2.3 -3.4M524.40 175.20l2.3 -3.4M527.40 175.20l2.3 -3.4M530.25 175.20l2.3 -3.4M531.80 175.20l2.3 -3.4M533.35 175.20l2.3 -3.4M534.90 175.20l2.3 -3.4M536.45 175.20l2.3 -3.4M538.00 175.20l2.3 -3.4M539.55 175.20l2.3 -3.4M541.10 175.20l2.3 -3.4M542.65 175.20l2.3 -3.4M544.20 175.20l2.3 -3.4M545.75 175.20l2.3 -3.4M547.30 175.20l2.3 -3.4M548.85 175.20l2.3 -3.4M550.40 175.20l2.3 -3.4M553.55 175.20l2.3 -3.4" stroke="#666" stroke-width="0.65" fill="none"/>
<path d="M444.00 173.20L557.50 173.20" stroke="#999" stroke-width="0.5" />
<path d="M563.00 173.20L596.50 173.20" stroke="#444" stroke-width="1.1" stroke-dasharray="21 4.75 4.75 4.75" stroke-dashoffset="32.75"/>
<rect x="596.60" y="172.20" width="2.00" height="2.00" fill="#222" stroke="none" stroke-width="1" />
<path d="M600.75 175.20l2.3 -3.4M602.30 175.20l2.3 -3.4M603.85 175.20l2.3 -3.4M605.40 175.20l2.3 -3.4M606.95 175.20l2.3 -3.4M608.50 175.20l2.3 -3.4M610.05 175.20l2.3 -3.4M611.60 175.20l2.3 -3.4M613.15 175.20l2.3 -3.4M614.70 175.20l2.3 -3.4M616.25 175.20l2.3 -3.4M617.80 175.20l2.3 -3.4M619.35 175.20l2.3 -3.4M620.90 175.20l2.3 -3.4M624.05 175.20l2.3 -3.4M626.95 175.20l2.3 -3.4M628.55 175.20l2.3 -3.4M630.15 175.20l2.3 -3.4" stroke="#666" stroke-width="0.65" fill="none"/>
<path d="M599.00 173.20L634.00 173.20" stroke="#999" stroke-width="0.5" />
<path d="M850.60 175.20l2.3 -3.4M852.15 175.20l2.3 -3.4M853.70 175.20l2.3 -3.4M855.25 175.20l2.3 -3.4M856.80 175.20l2.3 -3.4M858.35 175.20l2.3 -3.4M859.90 175.20l2.3 -3.4M861.45 175.20l2.3 -3.4M863.00 175.20l2.3 -3.4M864.55 175.20l2.3 -3.4M866.10 175.20l2.3 -3.4M867.65 175.20l2.3 -3.4M870.80 175.20l2.3 -3.4M873.70 175.20l2.3 -3.4M875.30 175.20l2.3 -3.4M876.90 175.20l2.3 -3.4M879.90 175.20l2.3 -3.4M882.75 175.20l2.3 -3.4M884.30 175.20l2.3 -3.4M885.85 175.20l2.3 -3.4M887.40 175.20l2.3 -3.4M888.95 175.20l2.3 -3.4M890.50 175.20l2.3 -3.4M892.05 175.20l2.3 -3.4M893.60 175.20l2.3 -3.4M895.15 175.20l2.3 -3.4M896.70 175.20l2.3 -3.4M898.25 175.20l2.3 -3.4M899.80 175.20l2.3 -3.4M901.35 175.20l2.3 -3.4M902.90 175.20l2.3 -3.4M906.05 175.20l2.3 -3.4M908.95 175.20l2.3 -3.4M910.55 175.20l2.3 -3.4M912.15 175.20l2.3 -3.4M915.15 175.20l2.3 -3.4M918.00 175.20l2.3 -3.4M919.55 175.20l2.3 -3.4M921.10 175.20l2.3 -3.4M922.65 175.20l2.3 -3.4M924.20 175.20l2.3 -3.4M925.75 175.20l2.3 -3.4M927.30 175.20l2.3 -3.4M928.85 175.20l2.3 -3.4M930.40 175.20l2.3 -3.4M931.95 175.20l2.3 -3.4M933.50 175.20l2.3 -3.4M935.05 175.20l2.3 -3.4M936.60 175.20l2.3 -3.4M938.15 175.20l2.3 -3.4M941.30 175.20l2.3 -3.4M944.20 175.20l2.3 -3.4M945.80 175.20l2.3 -3.4M947.40 175.20l2.3 -3.4M950.40 175.20l2.3 -3.4M953.25 175.20l2.3 -3.4M954.80 175.20l2.3 -3.4M956.35 175.20l2.3 -3.4M957.90 175.20l2.3 -3.4M959.45 175.20l2.3 -3.4M961.00 175.20l2.3 -3.4M962.55 175.20l2.3 -3.4M964.10 175.20l2.3 -3.4M965.65 175.20l2.3 -3.4M967.20 175.20l2.3 -3.4M968.75 175.20l2.3 -3.4M970.30 175.20l2.3 -3.4M971.85 175.20l2.3 -3.4M973.40 175.20l2.3 -3.4M976.55 175.20l2.3 -3.4M979.45 175.20l2.3 -3.4M981.05 175.20l2.3 -3.4M982.65 175.20l2.3 -3.4M985.65 175.20l2.3 -3.4M988.50 175.20l2.3 -3.4M990.05 175.20l2.3 -3.4M991.60 175.20l2.3 -3.4M993.15 175.20l2.3 -3.4M994.70 175.20l2.3 -3.4M996.25 175.20l2.3 -3.4M997.80 175.20l2.3 -3.4M999.35 175.20l2.3 -3.4M1000.90 175.20l2.3 -3.4M1002.45 175.20l2.3 -3.4M1004.00 175.20l2.3 -3.4M1005.55 175.20l2.3 -3.4M1007.10 175.20l2.3 -3.4M1008.65 175.20l2.3 -3.4M1011.80 175.20l2.3 -3.4" stroke="#666" stroke-width="0.65" fill="none"/>
<path d="M850.00 173.20L1016.50 173.20" stroke="#999" stroke-width="0.5" />
<path d="M1023.40 173.20L1033.80 173.20" stroke="#333" stroke-width="1.0" />
<rect x="1034.00" y="172.20" width="2.00" height="2.00" fill="#222" stroke="none" stroke-width="1" />
<circle cx="128.6" cy="173.4" r="1.2" fill="#222"/>
<circle cx="558.3" cy="173.4" r="1.2" fill="#222"/>
<circle cx="1017.3" cy="173.4" r="1.2" fill="#222"/>
<path d="M124.40 173.00L124.40 188.10" stroke="#222" stroke-width="1" />
<path d="M101.90 188.10L124.40 188.10" stroke="#222" stroke-width="1" />
<text x="102.00" y="186.80" font-size="3.2" fill="#111" text-anchor="start" font-weight="bold" textLength="19.00" lengthAdjust="spacingAndGlyphs" >MECH. H.W.</text>
<text x="102.00" y="191.60" font-size="3.2" fill="#111" text-anchor="start" font-weight="bold" textLength="8.00" lengthAdjust="spacingAndGlyphs" >SHAFT</text>
<text x="175.00" y="187.20" font-size="3.2" fill="#111" text-anchor="start" font-weight="bold" textLength="21.00" lengthAdjust="spacingAndGlyphs" >MECH. SHAFT</text>
<path d="M174.40 188.60L196.30 188.60" stroke="#222" stroke-width="0.8" />
<path d="M196.30 173.00L196.30 191.30" stroke="#222" stroke-width="1" />
<path d="M196.30 191.30L260.00 191.30" stroke="#222" stroke-width="1" />
<path d="M304.50 173.00L304.50 188.50" stroke="#222" stroke-width="1" />
<path d="M288.00 188.50L304.50 188.50" stroke="#222" stroke-width="1" />
<text x="289.00" y="187.40" font-size="3.2" fill="#111" text-anchor="start" font-weight="bold" textLength="14.00" lengthAdjust="spacingAndGlyphs" >T. SHAFT</text>
<path d="M925.50 173.00L925.50 188.00" stroke="#222" stroke-width="1" />
<path d="M902.00 188.30L925.50 188.30" stroke="#222" stroke-width="0.9" />
<text x="903.00" y="187.00" font-size="3.2" fill="#111" text-anchor="start" font-weight="bold" textLength="21.00" lengthAdjust="spacingAndGlyphs" >ELEC. SHAFT</text>
<path d="M971.00 173.00L971.00 188.00" stroke="#222" stroke-width="1" />
<path d="M971.00 188.30L993.50 188.30" stroke="#222" stroke-width="0.9" />
<text x="972.50" y="187.00" font-size="3.2" fill="#111" text-anchor="start" font-weight="bold" textLength="20.00" lengthAdjust="spacingAndGlyphs" >CHILL. SHAFT</text>
<path d="M648.00 173.00L836.00 173.00" stroke="#9a9a9a" stroke-width="1.5" stroke-dasharray="20.6 3.75 5.6 5.3" stroke-dashoffset="11.75"/>
<path d="M646.70 176.30L763.40 176.30" stroke="#333" stroke-width="0.9" />
<path d="M763.00 177.70L836.00 177.70" stroke="#aaa" stroke-width="1.2" stroke-dasharray="7 3"/>
<path d="M763.40 172.00L763.40 178.50" stroke="#555" stroke-width="1" />
<path d="M781.50 172.00L781.50 178.50" stroke="#555" stroke-width="1" />
<text x="766.00" y="180.30" font-size="9.5" fill="#cfcfcf" text-anchor="start" textLength="92.00" lengthAdjust="spacingAndGlyphs" >ELEC. CLOSET</text>
<path d="M783.4 202.5V183.75H855.25V202.5M816.9 183.75V202.5" fill="none" stroke="#444" stroke-width="1.2"/>
<text x="793.00" y="197.50" font-size="13" fill="#c4c4c4" text-anchor="start" textLength="14.50" lengthAdjust="spacingAndGlyphs" >C1</text>
<text x="823.00" y="197.50" font-size="13" fill="#c4c4c4" text-anchor="start" textLength="27.60" lengthAdjust="spacingAndGlyphs" >025</text>
<path d="M870.00 177.50L855.25 202.50" stroke="#444" stroke-width="0.8" />
<path d="M869.60 172.00L869.60 178.50" stroke="#333" stroke-width="1" />
<text x="323.50" y="270.00" font-size="13.5" fill="#c8c8c8" text-anchor="start" textLength="52.00" lengthAdjust="spacingAndGlyphs" >DATA</text>
<text x="419.00" y="270.00" font-size="13.5" fill="#c8c8c8" text-anchor="start" textLength="58.00" lengthAdjust="spacingAndGlyphs" >SPACE</text>
<path d="M364.4 274.4H435.6V294.4H364.4ZM397.5 274.4V294.4" fill="none" stroke="#666" stroke-width="1"/>
<text x="372.00" y="289.00" font-size="13.5" fill="#c4c4c4" text-anchor="start" textLength="15.00" lengthAdjust="spacingAndGlyphs" >C1</text>
<text x="403.70" y="289.00" font-size="13.5" fill="#c4c4c4" text-anchor="start" textLength="27.50" lengthAdjust="spacingAndGlyphs" >029</text>
<path d="M114.40 236.25H139.30M114.40 247.71H139.30M114.40 259.17H139.30M114.40 270.63H139.30M114.40 282.09H139.30M114.40 293.55H139.30M114.40 305.01H139.30M114.40 316.47H139.30M114.40 327.93H139.30M114.40 339.39H139.30M114.40 350.85H139.30M114.40 362.31H139.30M114.40 373.77H139.30M114.40 385.23H139.30M114.40 396.69H139.30M114.40 408.15H139.30M114.40 419.61H139.30M114.40 431.07H139.30M114.40 442.53H139.30M114.40 453.99H139.30M114.40 465.45H139.30M114.40 476.91H139.30M114.40 488.37H139.30M114.40 499.83H139.30M114.40 511.29H139.30M114.40 522.75H139.30M114.40 534.21H139.30M114.40 545.67H139.30M165.09 236.25H189.99M165.09 247.71H189.99M165.09 259.17H189.99M165.09 270.63H189.99M165.09 282.09H189.99M165.09 293.55H189.99M165.09 305.01H189.99M165.09 316.47H189.99M165.09 327.93H189.99M165.09 339.39H189.99M165.09 350.85H189.99M165.09 362.31H189.99M165.09 373.77H189.99M165.09 385.23H189.99M165.09 396.69H189.99M165.09 408.15H189.99M165.09 419.61H189.99M165.09 431.07H189.99M165.09 442.53H189.99M165.09 453.99H189.99M165.09 465.45H189.99M165.09 476.91H189.99M165.09 488.37H189.99M165.09 499.83H189.99M165.09 511.29H189.99M165.09 522.75H189.99M165.09 534.21H189.99M165.09 545.67H189.99M215.78 236.25H240.68M215.78 247.71H240.68M215.78 259.17H240.68M215.78 270.63H240.68M215.78 282.09H240.68M215.78 293.55H240.68M215.78 305.01H240.68M215.78 316.47H240.68M215.78 327.93H240.68M215.78 339.39H240.68M215.78 350.85H240.68M215.78 362.31H240.68M215.78 373.77H240.68M215.78 385.23H240.68M215.78 396.69H240.68M215.78 408.15H240.68M215.78 419.61H240.68M215.78 431.07H240.68M215.78 442.53H240.68M215.78 453.99H240.68M215.78 465.45H240.68M215.78 476.91H240.68M215.78 488.37H240.68M215.78 499.83H240.68M215.78 511.29H240.68M215.78 522.75H240.68M215.78 534.21H240.68M215.78 545.67H240.68M266.47 236.25H291.37M266.47 247.71H291.37M266.47 259.17H291.37M266.47 270.63H291.37M266.47 282.09H291.37M266.47 293.55H291.37M266.47 305.01H291.37M266.47 316.47H291.37M266.47 327.93H291.37M266.47 339.39H291.37M266.47 350.85H291.37M266.47 362.31H291.37M266.47 373.77H291.37M266.47 385.23H291.37M266.47 396.69H291.37M266.47 408.15H291.37M266.47 419.61H291.37M266.47 431.07H291.37M266.47 442.53H291.37M266.47 453.99H291.37M266.47 465.45H291.37M266.47 476.91H291.37M266.47 488.37H291.37M266.47 499.83H291.37M266.47 511.29H291.37M266.47 522.75H291.37M266.47 534.21H291.37M266.47 545.67H291.37M317.16 236.25H342.06M317.16 247.71H342.06M317.16 259.17H342.06M317.16 270.63H342.06M317.16 282.09H342.06M317.16 293.55H342.06M317.16 305.01H342.06M317.16 316.47H342.06M317.16 327.93H342.06M317.16 339.39H342.06M317.16 350.85H342.06M317.16 362.31H342.06M317.16 373.77H342.06M317.16 385.23H342.06M317.16 396.69H342.06M317.16 408.15H342.06M317.16 419.61H342.06M317.16 431.07H342.06M317.16 442.53H342.06M317.16 453.99H342.06M317.16 465.45H342.06M317.16 476.91H342.06M317.16 488.37H342.06M317.16 499.83H342.06M317.16 511.29H342.06M317.16 522.75H342.06M317.16 534.21H342.06M317.16 545.67H342.06M367.85 236.25H392.75M367.85 247.71H392.75M367.85 259.17H392.75M367.85 270.63H392.75M367.85 282.09H392.75M367.85 293.55H392.75M367.85 305.01H392.75M367.85 316.47H392.75M367.85 327.93H392.75M367.85 339.39H392.75M367.85 350.85H392.75M367.85 362.31H392.75M367.85 373.77H392.75M367.85 385.23H392.75M367.85 396.69H392.75M367.85 408.15H392.75M367.85 419.61H392.75M367.85 431.07H392.75M367.85 442.53H392.75M367.85 453.99H392.75M367.85 465.45H392.75M367.85 476.91H392.75M367.85 488.37H392.75M367.85 499.83H392.75M367.85 511.29H392.75M367.85 522.75H392.75M367.85 534.21H392.75M367.85 545.67H392.75M418.54 236.25H443.44M418.54 247.71H443.44M418.54 259.17H443.44M418.54 270.63H443.44M418.54 282.09H443.44M418.54 293.55H443.44M418.54 305.01H443.44M418.54 316.47H443.44M418.54 327.93H443.44M418.54 339.39H443.44M418.54 350.85H443.44M418.54 362.31H443.44M418.54 373.77H443.44M418.54 385.23H443.44M418.54 396.69H443.44M418.54 408.15H443.44M418.54 419.61H443.44M418.54 431.07H443.44M418.54 442.53H443.44M418.54 453.99H443.44M418.54 465.45H443.44M418.54 476.91H443.44M418.54 488.37H443.44M418.54 499.83H443.44M418.54 511.29H443.44M418.54 522.75H443.44M418.54 534.21H443.44M418.54 545.67H443.44M469.23 236.25H494.13M469.23 247.71H494.13M469.23 259.17H494.13M469.23 270.63H494.13M469.23 282.09H494.13M469.23 293.55H494.13M469.23 305.01H494.13M469.23 316.47H494.13M469.23 327.93H494.13M469.23 339.39H494.13M469.23 350.85H494.13M469.23 362.31H494.13M469.23 373.77H494.13M469.23 385.23H494.13M469.23 396.69H494.13M469.23 408.15H494.13M469.23 419.61H494.13M469.23 431.07H494.13M469.23 442.53H494.13M469.23 453.99H494.13M469.23 465.45H494.13M469.23 476.91H494.13M469.23 488.37H494.13M469.23 499.83H494.13M469.23 511.29H494.13M469.23 522.75H494.13M469.23 534.21H494.13M469.23 545.67H494.13M519.92 236.25H544.82M519.92 247.71H544.82M519.92 259.17H544.82M519.92 270.63H544.82M519.92 282.09H544.82M519.92 293.55H544.82M519.92 305.01H544.82M519.92 316.47H544.82M519.92 327.93H544.82M519.92 339.39H544.82M519.92 350.85H544.82M519.92 362.31H544.82M519.92 373.77H544.82M519.92 385.23H544.82M519.92 396.69H544.82M519.92 408.15H544.82M519.92 419.61H544.82M519.92 431.07H544.82M519.92 442.53H544.82M519.92 453.99H544.82M519.92 465.45H544.82M519.92 476.91H544.82M519.92 488.37H544.82M519.92 499.83H544.82M519.92 511.29H544.82M519.92 522.75H544.82M519.92 534.21H544.82M519.92 545.67H544.82M570.61 236.25H595.51M570.61 247.71H595.51M570.61 259.17H595.51M570.61 270.63H595.51M570.61 282.09H595.51M570.61 293.55H595.51M570.61 305.01H595.51M570.61 316.47H595.51M570.61 327.93H595.51M570.61 339.39H595.51M570.61 350.85H595.51M570.61 362.31H595.51M570.61 373.77H595.51M570.61 385.23H595.51M570.61 396.69H595.51M570.61 408.15H595.51M570.61 419.61H595.51M570.61 431.07H595.51M570.61 442.53H595.51M570.61 453.99H595.51M570.61 465.45H595.51M570.61 476.91H595.51M570.61 488.37H595.51M570.61 499.83H595.51M570.61 511.29H595.51M570.61 522.75H595.51M570.61 534.21H595.51M570.61 545.67H595.51M621.30 236.25H646.20M621.30 247.71H646.20M621.30 259.17H646.20M621.30 270.63H646.20M621.30 282.09H646.20M621.30 293.55H646.20M621.30 305.01H646.20M621.30 316.47H646.20M621.30 327.93H646.20M621.30 339.39H646.20M621.30 350.85H646.20M621.30 362.31H646.20M621.30 373.77H646.20M621.30 385.23H646.20M621.30 396.69H646.20M621.30 408.15H646.20M621.30 419.61H646.20M621.30 431.07H646.20M621.30 442.53H646.20M621.30 453.99H646.20M621.30 465.45H646.20M621.30 476.91H646.20M621.30 488.37H646.20M621.30 499.83H646.20M621.30 511.29H646.20M621.30 522.75H646.20M621.30 534.21H646.20M621.30 545.67H646.20M671.99 236.25H696.89M671.99 247.71H696.89M671.99 259.17H696.89M671.99 270.63H696.89M671.99 282.09H696.89M671.99 293.55H696.89M671.99 305.01H696.89M671.99 316.47H696.89M671.99 327.93H696.89M671.99 339.39H696.89M671.99 350.85H696.89M671.99 362.31H696.89M671.99 373.77H696.89M671.99 385.23H696.89M671.99 396.69H696.89M671.99 408.15H696.89M671.99 419.61H696.89M671.99 431.07H696.89M671.99 442.53H696.89M671.99 453.99H696.89M671.99 465.45H696.89M671.99 476.91H696.89M671.99 488.37H696.89M671.99 499.83H696.89M671.99 511.29H696.89M671.99 522.75H696.89M671.99 534.21H696.89M671.99 545.67H696.89M722.68 236.25H747.58M722.68 247.71H747.58M722.68 259.17H747.58M722.68 270.63H747.58M722.68 282.09H747.58M722.68 293.55H747.58M722.68 305.01H747.58M722.68 316.47H747.58M722.68 327.93H747.58M722.68 339.39H747.58M722.68 350.85H747.58M722.68 362.31H747.58M722.68 373.77H747.58M722.68 385.23H747.58M722.68 396.69H747.58M722.68 408.15H747.58M722.68 419.61H747.58M722.68 431.07H747.58M722.68 442.53H747.58M722.68 453.99H747.58M722.68 465.45H747.58M722.68 476.91H747.58M722.68 488.37H747.58M722.68 499.83H747.58M722.68 511.29H747.58M722.68 522.75H747.58M722.68 534.21H747.58M722.68 545.67H747.58M773.37 236.25H798.27M773.37 247.71H798.27M773.37 259.17H798.27M773.37 270.63H798.27M773.37 282.09H798.27M773.37 293.55H798.27M773.37 305.01H798.27M773.37 316.47H798.27M773.37 327.93H798.27M773.37 339.39H798.27M773.37 350.85H798.27M773.37 362.31H798.27M773.37 373.77H798.27M773.37 385.23H798.27M773.37 396.69H798.27M773.37 408.15H798.27M773.37 419.61H798.27M773.37 431.07H798.27M773.37 442.53H798.27M773.37 453.99H798.27M773.37 465.45H798.27M773.37 476.91H798.27M773.37 488.37H798.27M773.37 499.83H798.27M773.37 511.29H798.27M773.37 522.75H798.27M773.37 534.21H798.27M773.37 545.67H798.27M824.06 236.25H848.96M824.06 247.71H848.96M824.06 259.17H848.96M824.06 270.63H848.96M824.06 282.09H848.96M824.06 293.55H848.96M824.06 305.01H848.96M824.06 316.47H848.96M824.06 327.93H848.96M824.06 339.39H848.96M824.06 350.85H848.96M824.06 362.31H848.96M824.06 373.77H848.96M824.06 385.23H848.96M824.06 396.69H848.96M824.06 408.15H848.96M824.06 419.61H848.96M824.06 431.07H848.96M824.06 442.53H848.96M824.06 453.99H848.96M824.06 465.45H848.96M824.06 476.91H848.96M824.06 488.37H848.96M824.06 499.83H848.96M824.06 511.29H848.96M824.06 522.75H848.96M824.06 534.21H848.96M824.06 545.67H848.96M874.75 236.25H899.65M874.75 247.71H899.65M874.75 259.17H899.65M874.75 270.63H899.65M874.75 282.09H899.65M874.75 293.55H899.65M874.75 305.01H899.65M874.75 316.47H899.65M874.75 327.93H899.65M874.75 339.39H899.65M874.75 350.85H899.65M874.75 362.31H899.65M874.75 373.77H899.65M874.75 385.23H899.65M874.75 396.69H899.65M874.75 408.15H899.65M874.75 419.61H899.65M874.75 431.07H899.65M874.75 442.53H899.65M874.75 453.99H899.65M874.75 465.45H899.65M874.75 476.91H899.65M874.75 488.37H899.65M874.75 499.83H899.65M874.75 511.29H899.65M874.75 522.75H899.65M874.75 534.21H899.65M874.75 545.67H899.65M925.44 236.25H950.34M925.44 247.71H950.34M925.44 259.17H950.34M925.44 270.63H950.34M925.44 282.09H950.34M925.44 293.55H950.34M925.44 305.01H950.34M925.44 316.47H950.34M925.44 327.93H950.34M925.44 339.39H950.34M925.44 350.85H950.34M925.44 362.31H950.34M925.44 373.77H950.34M925.44 385.23H950.34M925.44 396.69H950.34M925.44 408.15H950.34M925.44 419.61H950.34M925.44 431.07H950.34M925.44 442.53H950.34M925.44 453.99H950.34M925.44 465.45H950.34M925.44 476.91H950.34M925.44 488.37H950.34M925.44 499.83H950.34M925.44 511.29H950.34M925.44 522.75H950.34M925.44 534.21H950.34M925.44 545.67H950.34M976.13 236.25H1001.03M976.13 247.71H1001.03M976.13 259.17H1001.03M976.13 270.63H1001.03M976.13 282.09H1001.03M976.13 293.55H1001.03M976.13 305.01H1001.03M976.13 316.47H1001.03M976.13 327.93H1001.03M976.13 339.39H1001.03M976.13 350.85H1001.03M976.13 362.31H1001.03M976.13 373.77H1001.03M976.13 385.23H1001.03M976.13 396.69H1001.03M976.13 408.15H1001.03M976.13 419.61H1001.03M976.13 431.07H1001.03M976.13 442.53H1001.03M976.13 453.99H1001.03M976.13 465.45H1001.03M976.13 476.91H1001.03M976.13 488.37H1001.03M976.13 499.83H1001.03M976.13 511.29H1001.03M976.13 522.75H1001.03M976.13 534.21H1001.03M976.13 545.67H1001.03" stroke="#10108a" stroke-width="1.9" fill="none"/>
<path d="M291.37 235.65V546.27M722.68 235.65V546.27M773.37 235.65V546.27" stroke="#a4a4e6" stroke-width="1.0" fill="none"/>
<path d="M165.09 235.65V546.27M240.68 235.65V305.61M240.68 315.87V443.13M240.68 453.39V546.27M342.06 235.65V546.27M392.75 235.65V546.27M443.44 235.65V305.61M443.44 315.87V443.13M443.44 453.39V546.27M469.23 235.65V546.27M621.30 235.65V305.61M621.30 315.87V443.13M621.30 453.39V546.27M671.99 235.65V546.27M824.06 235.65V305.61M824.06 315.87V443.13M824.06 453.39V546.27M874.75 235.65V546.27M925.44 235.65V546.27" stroke="#04044e" stroke-width="1.25" fill="none"/>
<path d="M114.40 235.65V546.27M139.30 235.65V546.27M189.99 235.65V546.27M215.78 235.65V305.61M215.78 315.87V443.13M215.78 453.39V546.27M266.47 235.65V546.27M317.16 235.65V546.27M367.85 235.65V546.27M418.54 235.65V305.61M418.54 315.87V443.13M418.54 453.39V546.27M494.13 235.65V546.27M519.92 235.65V546.27M544.82 235.65V546.27M570.61 235.65V546.27M595.51 235.65V546.27M646.20 235.65V305.61M646.20 315.87V443.13M646.20 453.39V546.27M696.89 235.65V546.27M747.58 235.65V546.27M798.27 235.65V546.27M848.96 235.65V305.61M848.96 315.87V443.13M848.96 453.39V546.27M899.65 235.65V546.27M950.34 235.65V546.27M976.13 235.65V546.27M1001.03 235.65V546.27" stroke="#00002a" stroke-width="1.4" fill="none"/>
<path d="M234.60 236.00L234.60 566.00" stroke="#ffffff" stroke-width="1.3" />
<path d="M234.60 236.00L234.60 566.00" stroke="#707070" stroke-width="1.3" stroke-dasharray="9.5 3.2"/>
<path d="M437.40 236.00L437.40 566.00" stroke="#ffffff" stroke-width="1.3" />
<path d="M437.40 236.00L437.40 566.00" stroke="#707070" stroke-width="1.3" stroke-dasharray="9.5 3.2"/>
<path d="M640.30 236.00L640.30 566.00" stroke="#ffffff" stroke-width="1.3" />
<path d="M640.30 236.00L640.30 566.00" stroke="#707070" stroke-width="1.3" stroke-dasharray="9.5 3.2"/>
<path d="M842.80 236.00L842.80 566.00" stroke="#ffffff" stroke-width="1.3" />
<path d="M842.80 236.00L842.80 566.00" stroke="#707070" stroke-width="1.3" stroke-dasharray="9.5 3.2"/>
<text x="125.60" y="244.58" font-size="5.9" fill="#555" text-anchor="middle" >1</text>
<text x="125.60" y="256.04" font-size="5.9" fill="#555" text-anchor="middle" >2</text>
<text x="125.60" y="267.50" font-size="5.9" fill="#555" text-anchor="middle" >3</text>
<text x="125.60" y="278.96" font-size="5.9" fill="#555" text-anchor="middle" >4</text>
<text x="125.60" y="290.42" font-size="5.9" fill="#555" text-anchor="middle" >5</text>
<text x="125.60" y="301.88" font-size="5.9" fill="#555" text-anchor="middle" >6</text>
<text x="125.60" y="313.34" font-size="5.9" fill="#555" text-anchor="middle" >7</text>
<text x="125.60" y="324.80" font-size="5.9" fill="#555" text-anchor="middle" >8</text>
<text x="125.60" y="336.26" font-size="5.9" fill="#555" text-anchor="middle" >9</text>
<text x="125.60" y="347.72" font-size="5.9" fill="#555" text-anchor="middle" >10</text>
<text x="125.60" y="359.18" font-size="5.9" fill="#555" text-anchor="middle" >11</text>
<text x="125.60" y="370.64" font-size="5.9" fill="#555" text-anchor="middle" >12</text>
<text x="125.60" y="382.10" font-size="5.9" fill="#555" text-anchor="middle" >13</text>
<text x="125.60" y="393.56" font-size="5.9" fill="#555" text-anchor="middle" >14</text>
<text x="125.60" y="405.02" font-size="5.9" fill="#555" text-anchor="middle" >15</text>
<text x="125.60" y="416.48" font-size="5.9" fill="#555" text-anchor="middle" >16</text>
<text x="125.60" y="427.94" font-size="5.9" fill="#555" text-anchor="middle" >17</text>
<text x="125.60" y="439.40" font-size="5.9" fill="#555" text-anchor="middle" >18</text>
<text x="125.60" y="450.86" font-size="5.9" fill="#555" text-anchor="middle" >19</text>
<text x="125.60" y="462.32" font-size="5.9" fill="#555" text-anchor="middle" >20</text>
<text x="125.60" y="473.78" font-size="5.9" fill="#555" text-anchor="middle" >21</text>
<text x="125.60" y="485.24" font-size="5.9" fill="#555" text-anchor="middle" >22</text>
<text x="125.60" y="496.70" font-size="5.9" fill="#555" text-anchor="middle" >23</text>
<text x="125.60" y="508.16" font-size="5.9" fill="#555" text-anchor="middle" >24</text>
<text x="125.60" y="519.62" font-size="5.9" fill="#555" text-anchor="middle" >25</text>
<text x="125.60" y="531.08" font-size="5.9" fill="#555" text-anchor="middle" >26</text>
<path d="M139.40 212.5H152.50M139.40 235.7H152.50" stroke="#111" stroke-width="1.3" fill="none"/>
<path d="M140.00 224.50Q148.40 221.50 152.00 213.50M140.00 224.50Q148.40 227.50 152.00 234.70" stroke="#666" stroke-width="0.7" fill="none"/>
<path d="M164.00 213.50L153.80 219.50L162.00 224.70L153.80 229.50L164.00 234.70" stroke="#666" stroke-width="0.7" fill="none" stroke-dasharray="3 0.8"/>
<rect x="118.10" y="212.50" width="21.30" height="23.20" fill="none" stroke="#444" stroke-width="1" />
<text x="0.00" y="0.00" font-size="4.2" fill="#333" text-anchor="start" textLength="15.00" lengthAdjust="spacingAndGlyphs" transform="translate(129.35,216.10) rotate(90)">300 KVA</text>
<text x="0.00" y="0.00" font-size="4.2" fill="#666" text-anchor="start" textLength="20.50" lengthAdjust="spacingAndGlyphs" transform="translate(125.15,214.00) rotate(90)">RPP-H1-A1</text>
<text x="133.65" y="209.70" font-size="6.0" fill="#333" text-anchor="middle" >A</text>
<rect x="164.69" y="212.50" width="21.90" height="23.20" fill="none" stroke="#444" stroke-width="1" />
<text x="0.00" y="0.00" font-size="4.2" fill="#333" text-anchor="start" textLength="15.00" lengthAdjust="spacingAndGlyphs" transform="translate(176.24,216.10) rotate(90)">300 KVA</text>
<text x="0.00" y="0.00" font-size="4.2" fill="#666" text-anchor="start" textLength="20.50" lengthAdjust="spacingAndGlyphs" transform="translate(172.04,214.00) rotate(90)">RPP-H1-B2</text>
<text x="172.74" y="209.70" font-size="6.0" fill="#333" text-anchor="middle" >B</text>
<path d="M240.78 212.5H253.88M240.78 235.7H253.88" stroke="#111" stroke-width="1.3" fill="none"/>
<path d="M241.38 224.50Q249.78 221.50 253.38 213.50M241.38 224.50Q249.78 227.50 253.38 234.70" stroke="#666" stroke-width="0.7" fill="none"/>
<path d="M265.38 213.50L255.18 219.50L263.38 224.70L255.18 229.50L265.38 234.70" stroke="#666" stroke-width="0.7" fill="none" stroke-dasharray="3 0.8"/>
<rect x="219.48" y="212.50" width="21.30" height="23.20" fill="none" stroke="#444" stroke-width="1" />
<text x="0.00" y="0.00" font-size="4.2" fill="#333" text-anchor="start" textLength="15.00" lengthAdjust="spacingAndGlyphs" transform="translate(230.73,216.10) rotate(90)">300 KVA</text>
<text x="0.00" y="0.00" font-size="4.2" fill="#666" text-anchor="start" textLength="20.50" lengthAdjust="spacingAndGlyphs" transform="translate(226.53,214.00) rotate(90)">RPP-H1-C1</text>
<text x="230.23" y="209.70" font-size="6.0" fill="#333" text-anchor="middle" >C</text>
<rect x="266.07" y="212.50" width="21.90" height="23.20" fill="none" stroke="#444" stroke-width="1" />
<text x="0.00" y="0.00" font-size="4.2" fill="#333" text-anchor="start" textLength="15.00" lengthAdjust="spacingAndGlyphs" transform="translate(277.62,216.10) rotate(90)">300 KVA</text>
<text x="0.00" y="0.00" font-size="4.2" fill="#666" text-anchor="start" textLength="20.50" lengthAdjust="spacingAndGlyphs" transform="translate(273.42,214.00) rotate(90)">RPP-H1-D2</text>
<text x="280.92" y="209.70" font-size="6.0" fill="#333" text-anchor="middle" >D</text>
<path d="M342.16 212.5H355.26M342.16 235.7H355.26" stroke="#111" stroke-width="1.3" fill="none"/>
<path d="M342.76 224.50Q351.16 221.50 354.76 213.50M342.76 224.50Q351.16 227.50 354.76 234.70" stroke="#666" stroke-width="0.7" fill="none"/>
<path d="M366.76 213.50L356.56 219.50L364.76 224.70L356.56 229.50L366.76 234.70" stroke="#666" stroke-width="0.7" fill="none" stroke-dasharray="3 0.8"/>
<rect x="320.86" y="212.50" width="21.30" height="23.20" fill="none" stroke="#444" stroke-width="1" />
<text x="0.00" y="0.00" font-size="4.2" fill="#333" text-anchor="start" textLength="15.00" lengthAdjust="spacingAndGlyphs" transform="translate(332.11,216.10) rotate(90)">300 KVA</text>
<text x="0.00" y="0.00" font-size="4.2" fill="#666" text-anchor="start" textLength="20.50" lengthAdjust="spacingAndGlyphs" transform="translate(327.91,214.00) rotate(90)">RPP-H1-E1</text>
<text x="331.61" y="209.70" font-size="6.0" fill="#333" text-anchor="middle" >E</text>
<rect x="367.45" y="212.50" width="21.90" height="23.20" fill="none" stroke="#444" stroke-width="1" />
<text x="0.00" y="0.00" font-size="4.2" fill="#333" text-anchor="start" textLength="15.00" lengthAdjust="spacingAndGlyphs" transform="translate(379.00,216.10) rotate(90)">300 KVA</text>
<text x="0.00" y="0.00" font-size="4.2" fill="#666" text-anchor="start" textLength="20.50" lengthAdjust="spacingAndGlyphs" transform="translate(374.80,214.00) rotate(90)">RPP-H1-F2</text>
<text x="382.30" y="209.70" font-size="6.0" fill="#333" text-anchor="middle" >F</text>
<path d="M443.54 212.5H456.64M443.54 235.7H456.64" stroke="#111" stroke-width="1.3" fill="none"/>
<path d="M444.14 224.50Q452.54 221.50 456.14 213.50M444.14 224.50Q452.54 227.50 456.14 234.70" stroke="#666" stroke-width="0.7" fill="none"/>
<path d="M468.14 213.50L457.94 219.50L466.14 224.70L457.94 229.50L468.14 234.70" stroke="#666" stroke-width="0.7" fill="none" stroke-dasharray="3 0.8"/>
<rect x="422.24" y="212.50" width="21.30" height="23.20" fill="none" stroke="#444" stroke-width="1" />
<text x="0.00" y="0.00" font-size="4.2" fill="#333" text-anchor="start" textLength="15.00" lengthAdjust="spacingAndGlyphs" transform="translate(433.49,216.10) rotate(90)">300 KVA</text>
<text x="0.00" y="0.00" font-size="4.2" fill="#666" text-anchor="start" textLength="20.50" lengthAdjust="spacingAndGlyphs" transform="translate(429.29,214.00) rotate(90)">RPP-H1-G1</text>
<text x="432.99" y="209.70" font-size="6.0" fill="#333" text-anchor="middle" >G</text>
<rect x="468.83" y="212.50" width="21.90" height="23.20" fill="none" stroke="#444" stroke-width="1" />
<text x="0.00" y="0.00" font-size="4.2" fill="#333" text-anchor="start" textLength="15.00" lengthAdjust="spacingAndGlyphs" transform="translate(480.38,216.10) rotate(90)">300 KVA</text>
<text x="0.00" y="0.00" font-size="4.2" fill="#666" text-anchor="start" textLength="20.50" lengthAdjust="spacingAndGlyphs" transform="translate(476.18,214.00) rotate(90)">RPP-H1-H2</text>
<text x="483.68" y="209.70" font-size="6.0" fill="#333" text-anchor="middle" >H</text>
<path d="M544.92 212.5H558.02M544.92 235.7H558.02" stroke="#111" stroke-width="1.3" fill="none"/>
<path d="M545.52 224.50Q553.92 221.50 557.52 213.50M545.52 224.50Q553.92 227.50 557.52 234.70" stroke="#666" stroke-width="0.7" fill="none"/>
<path d="M569.52 213.50L559.32 219.50L567.52 224.70L559.32 229.50L569.52 234.70" stroke="#666" stroke-width="0.7" fill="none" stroke-dasharray="3 0.8"/>
<rect x="523.62" y="212.50" width="21.30" height="23.20" fill="none" stroke="#444" stroke-width="1" />
<text x="0.00" y="0.00" font-size="4.2" fill="#333" text-anchor="start" textLength="15.00" lengthAdjust="spacingAndGlyphs" transform="translate(534.87,216.10) rotate(90)">300 KVA</text>
<text x="0.00" y="0.00" font-size="4.2" fill="#666" text-anchor="start" textLength="20.50" lengthAdjust="spacingAndGlyphs" transform="translate(530.67,214.00) rotate(90)">RPP-H1-I1</text>
<text x="534.37" y="209.70" font-size="6.0" fill="#333" text-anchor="middle" >I</text>
<rect x="570.21" y="212.50" width="21.90" height="23.20" fill="none" stroke="#444" stroke-width="1" />
<text x="0.00" y="0.00" font-size="4.2" fill="#333" text-anchor="start" textLength="15.00" lengthAdjust="spacingAndGlyphs" transform="translate(581.76,216.10) rotate(90)">300 KVA</text>
<text x="0.00" y="0.00" font-size="4.2" fill="#666" text-anchor="start" textLength="20.50" lengthAdjust="spacingAndGlyphs" transform="translate(577.56,214.00) rotate(90)">RPP-H1-J2</text>
<text x="585.06" y="209.70" font-size="6.0" fill="#333" text-anchor="middle" >J</text>
<path d="M646.30 212.5H659.40M646.30 235.7H659.40" stroke="#111" stroke-width="1.3" fill="none"/>
<path d="M646.90 224.50Q655.30 221.50 658.90 213.50M646.90 224.50Q655.30 227.50 658.90 234.70" stroke="#666" stroke-width="0.7" fill="none"/>
<path d="M670.90 213.50L660.70 219.50L668.90 224.70L660.70 229.50L670.90 234.70" stroke="#666" stroke-width="0.7" fill="none" stroke-dasharray="3 0.8"/>
<rect x="625.00" y="212.50" width="21.30" height="23.20" fill="none" stroke="#444" stroke-width="1" />
<text x="0.00" y="0.00" font-size="4.2" fill="#333" text-anchor="start" textLength="15.00" lengthAdjust="spacingAndGlyphs" transform="translate(636.25,216.10) rotate(90)">300 KVA</text>
<text x="0.00" y="0.00" font-size="4.2" fill="#666" text-anchor="start" textLength="20.50" lengthAdjust="spacingAndGlyphs" transform="translate(632.05,214.00) rotate(90)">RPP-H1-K1</text>
<text x="635.75" y="209.70" font-size="6.0" fill="#333" text-anchor="middle" >K</text>
<rect x="671.59" y="212.50" width="21.90" height="23.20" fill="none" stroke="#444" stroke-width="1" />
<text x="0.00" y="0.00" font-size="4.2" fill="#333" text-anchor="start" textLength="15.00" lengthAdjust="spacingAndGlyphs" transform="translate(683.14,216.10) rotate(90)">300 KVA</text>
<text x="0.00" y="0.00" font-size="4.2" fill="#666" text-anchor="start" textLength="20.50" lengthAdjust="spacingAndGlyphs" transform="translate(678.94,214.00) rotate(90)">RPP-H1-L2</text>
<text x="686.44" y="209.70" font-size="6.0" fill="#333" text-anchor="middle" >L</text>
<path d="M747.68 212.5H760.78M747.68 235.7H760.78" stroke="#111" stroke-width="1.3" fill="none"/>
<path d="M748.28 224.50Q756.68 221.50 760.28 213.50M748.28 224.50Q756.68 227.50 760.28 234.70" stroke="#666" stroke-width="0.7" fill="none"/>
<path d="M772.28 213.50L762.08 219.50L770.28 224.70L762.08 229.50L772.28 234.70" stroke="#666" stroke-width="0.7" fill="none" stroke-dasharray="3 0.8"/>
<rect x="726.38" y="212.50" width="21.30" height="23.20" fill="none" stroke="#444" stroke-width="1" />
<text x="0.00" y="0.00" font-size="4.2" fill="#333" text-anchor="start" textLength="15.00" lengthAdjust="spacingAndGlyphs" transform="translate(737.63,216.10) rotate(90)">300 KVA</text>
<text x="0.00" y="0.00" font-size="4.2" fill="#666" text-anchor="start" textLength="20.50" lengthAdjust="spacingAndGlyphs" transform="translate(733.43,214.00) rotate(90)">RPP-H1-M1</text>
<text x="737.13" y="209.70" font-size="6.0" fill="#333" text-anchor="middle" >M</text>
<rect x="772.97" y="212.50" width="21.90" height="23.20" fill="none" stroke="#444" stroke-width="1" />
<text x="0.00" y="0.00" font-size="4.2" fill="#333" text-anchor="start" textLength="15.00" lengthAdjust="spacingAndGlyphs" transform="translate(784.52,216.10) rotate(90)">300 KVA</text>
<text x="0.00" y="0.00" font-size="4.2" fill="#666" text-anchor="start" textLength="20.50" lengthAdjust="spacingAndGlyphs" transform="translate(780.32,214.00) rotate(90)">RPP-H1-N2</text>
<text x="787.82" y="209.70" font-size="6.0" fill="#333" text-anchor="middle" >N</text>
<path d="M849.06 212.5H862.16M849.06 235.7H862.16" stroke="#111" stroke-width="1.3" fill="none"/>
<path d="M849.66 224.50Q858.06 221.50 861.66 213.50M849.66 224.50Q858.06 227.50 861.66 234.70" stroke="#666" stroke-width="0.7" fill="none"/>
<path d="M873.66 213.50L863.46 219.50L871.66 224.70L863.46 229.50L873.66 234.70" stroke="#666" stroke-width="0.7" fill="none" stroke-dasharray="3 0.8"/>
<rect x="827.76" y="212.50" width="21.30" height="23.20" fill="none" stroke="#444" stroke-width="1" />
<text x="0.00" y="0.00" font-size="4.2" fill="#333" text-anchor="start" textLength="15.00" lengthAdjust="spacingAndGlyphs" transform="translate(839.01,216.10) rotate(90)">300 KVA</text>
<text x="0.00" y="0.00" font-size="4.2" fill="#666" text-anchor="start" textLength="20.50" lengthAdjust="spacingAndGlyphs" transform="translate(834.81,214.00) rotate(90)">RPP-H1-O1</text>
<text x="838.51" y="209.70" font-size="6.0" fill="#333" text-anchor="middle" >O</text>
<rect x="874.35" y="212.50" width="21.90" height="23.20" fill="none" stroke="#444" stroke-width="1" />
<text x="0.00" y="0.00" font-size="4.2" fill="#333" text-anchor="start" textLength="15.00" lengthAdjust="spacingAndGlyphs" transform="translate(885.90,216.10) rotate(90)">300 KVA</text>
<text x="0.00" y="0.00" font-size="4.2" fill="#666" text-anchor="start" textLength="20.50" lengthAdjust="spacingAndGlyphs" transform="translate(881.70,214.00) rotate(90)">RPP-H1-P2</text>
<text x="889.20" y="209.70" font-size="6.0" fill="#333" text-anchor="middle" >P</text>
<path d="M950.44 212.5H963.54M950.44 235.7H963.54" stroke="#111" stroke-width="1.3" fill="none"/>
<path d="M951.04 224.50Q959.44 221.50 963.04 213.50M951.04 224.50Q959.44 227.50 963.04 234.70" stroke="#666" stroke-width="0.7" fill="none"/>
<path d="M975.04 213.50L964.84 219.50L973.04 224.70L964.84 229.50L975.04 234.70" stroke="#666" stroke-width="0.7" fill="none" stroke-dasharray="3 0.8"/>
<rect x="929.14" y="212.50" width="21.30" height="23.20" fill="none" stroke="#444" stroke-width="1" />
<text x="0.00" y="0.00" font-size="4.2" fill="#333" text-anchor="start" textLength="15.00" lengthAdjust="spacingAndGlyphs" transform="translate(940.39,216.10) rotate(90)">300 KVA</text>
<text x="0.00" y="0.00" font-size="4.2" fill="#666" text-anchor="start" textLength="20.50" lengthAdjust="spacingAndGlyphs" transform="translate(936.19,214.00) rotate(90)">RPP-H1-Q1</text>
<text x="939.89" y="209.70" font-size="6.0" fill="#333" text-anchor="middle" >Q</text>
<rect x="975.73" y="212.50" width="21.90" height="23.20" fill="none" stroke="#444" stroke-width="1" />
<text x="0.00" y="0.00" font-size="4.2" fill="#333" text-anchor="start" textLength="15.00" lengthAdjust="spacingAndGlyphs" transform="translate(987.28,216.10) rotate(90)">300 KVA</text>
<text x="0.00" y="0.00" font-size="4.2" fill="#666" text-anchor="start" textLength="20.50" lengthAdjust="spacingAndGlyphs" transform="translate(983.08,214.00) rotate(90)">RPP-H1-R2</text>
<text x="990.58" y="209.70" font-size="6.0" fill="#333" text-anchor="middle" >R</text>
<path d="M186.90 230.00L216.30 230.00" stroke="#333" stroke-width="0.9" />
<path d="M188.60 227.00L188.60 233.00" stroke="#333" stroke-width="0.9" />
<path d="M214.60 227.00L214.60 233.00" stroke="#333" stroke-width="0.9" />
<text x="193.70" y="229.00" font-size="6.5" fill="#111" text-anchor="start" font-family="Liberation Serif" font-weight="bold" textLength="18.30" lengthAdjust="spacingAndGlyphs" >1200</text>
<path d="M135.30 255.50L169.00 255.50" stroke="#333" stroke-width="0.9" />
<text x="143.00" y="254.30" font-size="6.5" fill="#111" text-anchor="start" font-family="Liberation Serif" font-weight="bold" textLength="17.60" lengthAdjust="spacingAndGlyphs" >1200</text>
<rect x="228.40" y="171.60" width="12.80" height="6.80" fill="#2e2e2e" stroke="none" stroke-width="1" />
<rect x="228.40" y="304.80" width="12.80" height="11.20" fill="#2e2e2e" stroke="none" stroke-width="1" />
<rect x="228.40" y="442.20" width="12.80" height="11.80" fill="#2e2e2e" stroke="none" stroke-width="1" />
<rect x="228.40" y="561.00" width="12.80" height="6.80" fill="#2e2e2e" stroke="none" stroke-width="1" />
<rect x="431.20" y="171.60" width="12.80" height="6.80" fill="#2e2e2e" stroke="none" stroke-width="1" />
<rect x="431.20" y="304.80" width="12.80" height="11.20" fill="#2e2e2e" stroke="none" stroke-width="1" />
<rect x="431.20" y="442.20" width="12.80" height="11.80" fill="#2e2e2e" stroke="none" stroke-width="1" />
<rect x="431.20" y="561.00" width="12.80" height="6.80" fill="#2e2e2e" stroke="none" stroke-width="1" />
<rect x="634.10" y="171.60" width="12.80" height="6.80" fill="#2e2e2e" stroke="none" stroke-width="1" />
<rect x="634.10" y="304.80" width="12.80" height="11.20" fill="#2e2e2e" stroke="none" stroke-width="1" />
<rect x="634.10" y="442.20" width="12.80" height="11.80" fill="#2e2e2e" stroke="none" stroke-width="1" />
<rect x="634.10" y="561.00" width="12.80" height="6.80" fill="#2e2e2e" stroke="none" stroke-width="1" />
<rect x="836.60" y="171.60" width="12.80" height="6.80" fill="#2e2e2e" stroke="none" stroke-width="1" />
<rect x="836.60" y="304.80" width="12.80" height="11.20" fill="#2e2e2e" stroke="none" stroke-width="1" />
<rect x="836.60" y="442.20" width="12.80" height="11.80" fill="#2e2e2e" stroke="none" stroke-width="1" />
<rect x="836.60" y="561.00" width="12.80" height="6.80" fill="#2e2e2e" stroke="none" stroke-width="1" />
<path d="M64.2 171.5H73.8V176Q73.8 180.6 68.5 180.6H64.2Z" fill="#222"/>
<path d="M64.4 304H69Q74.3 304 74.3 310.5Q74.3 317 69 317H64.4Z" fill="#222"/>
<rect x="64.30" y="441.70" width="9.70" height="13.30" fill="#111" stroke="none" stroke-width="1" />
<rect x="64.50" y="561.20" width="8.30" height="6.60" fill="#2e2e2e" stroke="none" stroke-width="1" />
<rect x="1039.60" y="171.60" width="6.00" height="6.80" fill="#2e2e2e" stroke="none" stroke-width="1" />
<rect x="1039.60" y="304.80" width="6.00" height="11.20" fill="#2e2e2e" stroke="none" stroke-width="1" />
<rect x="1039.60" y="442.20" width="6.00" height="11.80" fill="#2e2e2e" stroke="none" stroke-width="1" />
<rect x="1037.80" y="560.20" width="7.60" height="7.50" fill="#2e2e2e" stroke="none" stroke-width="1" />
<path d="M64.00 564.80L1045.00 564.80" stroke="#555" stroke-width="1.1" />
<path d="M72.00 566.60L1038.00 566.60" stroke="#999" stroke-width="1.0" stroke-dasharray="9 2 4 2"/>
<path d="M270.00 564.00L334.00 564.00" stroke="#111" stroke-width="1.7" stroke-dasharray="2.2 1.1"/>
<path d="M258.00 561.20L340.00 561.20" stroke="#555" stroke-width="0.7" stroke-dasharray="3 1.5"/>
<rect x="256.00" y="563.20" width="2.20" height="1.80" fill="#222" stroke="none" stroke-width="1" />
<path d="M360.00 564.00L422.50 564.00" stroke="#111" stroke-width="1.7" stroke-dasharray="2.2 1.1"/>
<path d="M348.00 561.20L428.50 561.20" stroke="#555" stroke-width="0.7" stroke-dasharray="3 1.5"/>
<rect x="346.00" y="563.20" width="2.20" height="1.80" fill="#222" stroke="none" stroke-width="1" />
<path d="M465.00 564.00L527.50 564.00" stroke="#111" stroke-width="1.7" stroke-dasharray="2.2 1.1"/>
<path d="M453.00 561.20L533.50 561.20" stroke="#555" stroke-width="0.7" stroke-dasharray="3 1.5"/>
<rect x="451.00" y="563.20" width="2.20" height="1.80" fill="#222" stroke="none" stroke-width="1" />
<path d="M555.00 564.00L620.00 564.00" stroke="#111" stroke-width="1.7" stroke-dasharray="2.2 1.1"/>
<path d="M543.00 561.20L626.00 561.20" stroke="#555" stroke-width="0.7" stroke-dasharray="3 1.5"/>
<rect x="541.00" y="563.20" width="2.20" height="1.80" fill="#222" stroke="none" stroke-width="1" />
<path d="M670.00 564.00L732.50 564.00" stroke="#111" stroke-width="1.7" stroke-dasharray="2.2 1.1"/>
<path d="M658.00 561.20L738.50 561.20" stroke="#555" stroke-width="0.7" stroke-dasharray="3 1.5"/>
<rect x="656.00" y="563.20" width="2.20" height="1.80" fill="#222" stroke="none" stroke-width="1" />
<path d="M759.00 564.00L824.00 564.00" stroke="#111" stroke-width="1.7" stroke-dasharray="2.2 1.1"/>
<path d="M747.00 561.20L830.00 561.20" stroke="#555" stroke-width="0.7" stroke-dasharray="3 1.5"/>
<rect x="745.00" y="563.20" width="2.20" height="1.80" fill="#222" stroke="none" stroke-width="1" />
<path d="M850.00 562.70L1037.00 562.70" stroke="#555" stroke-width="0.8" stroke-dasharray="2 1.5"/>
<path d="M241.00 545.00L241.00 561.00" stroke="#555" stroke-width="1" />
<path d="M887 565V549.5H943.8" fill="none" stroke="#777" stroke-width="1"/>
<text x="0.00" y="0.00" font-size="8.6" fill="#ee3b2b" text-anchor="start" textLength="37.30" lengthAdjust="spacingAndGlyphs" transform="translate(103.30,390) rotate(-90)">HOT AISLE</text>
<text x="0.00" y="0.00" font-size="8.6" fill="#ee3b2b" text-anchor="start" textLength="44.30" lengthAdjust="spacingAndGlyphs" transform="translate(156.40,393.9) rotate(-90)">COLD AISLE</text>
<text x="0.00" y="0.00" font-size="8.6" fill="#ee3b2b" text-anchor="start" textLength="37.30" lengthAdjust="spacingAndGlyphs" transform="translate(206.20,390) rotate(-90)">HOT AISLE</text>
<text x="0.00" y="0.00" font-size="8.6" fill="#ee3b2b" text-anchor="start" textLength="44.30" lengthAdjust="spacingAndGlyphs" transform="translate(258.40,393.9) rotate(-90)">COLD AISLE</text>
<text x="0.00" y="0.00" font-size="8.6" fill="#ee3b2b" text-anchor="start" textLength="37.30" lengthAdjust="spacingAndGlyphs" transform="translate(307.50,390) rotate(-90)">HOT AISLE</text>
<text x="0.00" y="0.00" font-size="8.6" fill="#ee3b2b" text-anchor="start" textLength="44.30" lengthAdjust="spacingAndGlyphs" transform="translate(357.50,393.9) rotate(-90)">COLD AISLE</text>
<text x="0.00" y="0.00" font-size="8.6" fill="#ee3b2b" text-anchor="start" textLength="37.30" lengthAdjust="spacingAndGlyphs" transform="translate(408.40,390) rotate(-90)">HOT AISLE</text>
<text x="0.00" y="0.00" font-size="8.6" fill="#ee3b2b" text-anchor="start" textLength="44.30" lengthAdjust="spacingAndGlyphs" transform="translate(461.30,393.9) rotate(-90)">COLD AISLE</text>
<text x="0.00" y="0.00" font-size="8.6" fill="#ee3b2b" text-anchor="start" textLength="37.30" lengthAdjust="spacingAndGlyphs" transform="translate(510.90,390) rotate(-90)">HOT AISLE</text>
<text x="0.00" y="0.00" font-size="8.6" fill="#ee3b2b" text-anchor="start" textLength="44.30" lengthAdjust="spacingAndGlyphs" transform="translate(560.60,393.9) rotate(-90)">COLD AISLE</text>
<text x="0.00" y="0.00" font-size="8.6" fill="#ee3b2b" text-anchor="start" textLength="37.30" lengthAdjust="spacingAndGlyphs" transform="translate(610.60,390) rotate(-90)">HOT AISLE</text>
<text x="0.00" y="0.00" font-size="8.6" fill="#ee3b2b" text-anchor="start" textLength="44.30" lengthAdjust="spacingAndGlyphs" transform="translate(663.30,393.9) rotate(-90)">COLD AISLE</text>
<text x="0.00" y="0.00" font-size="8.6" fill="#ee3b2b" text-anchor="start" textLength="37.30" lengthAdjust="spacingAndGlyphs" transform="translate(712.70,390) rotate(-90)">HOT AISLE</text>
<text x="0.00" y="0.00" font-size="8.6" fill="#ee3b2b" text-anchor="start" textLength="44.30" lengthAdjust="spacingAndGlyphs" transform="translate(763.50,393.9) rotate(-90)">COLD AISLE</text>
<text x="0.00" y="0.00" font-size="8.6" fill="#ee3b2b" text-anchor="start" textLength="37.30" lengthAdjust="spacingAndGlyphs" transform="translate(813.10,390) rotate(-90)">HOT AISLE</text>
<text x="0.00" y="0.00" font-size="8.6" fill="#ee3b2b" text-anchor="start" textLength="44.30" lengthAdjust="spacingAndGlyphs" transform="translate(864.30,393.9) rotate(-90)">COLD AISLE</text>
<text x="0.00" y="0.00" font-size="8.6" fill="#ee3b2b" text-anchor="start" textLength="37.30" lengthAdjust="spacingAndGlyphs" transform="translate(914.30,390) rotate(-90)">HOT AISLE</text>
<text x="0.00" y="0.00" font-size="8.6" fill="#ee3b2b" text-anchor="start" textLength="44.30" lengthAdjust="spacingAndGlyphs" transform="translate(965.30,393.9) rotate(-90)">COLD AISLE</text>
<text x="0.00" y="0.00" font-size="8.6" fill="#ee3b2b" text-anchor="start" textLength="37.30" lengthAdjust="spacingAndGlyphs" transform="translate(1015.30,390) rotate(-90)">HOT AISLE</text>
<text x="206.20" y="189.70" font-size="14.8" fill="#000" text-anchor="start" font-family="Liberation Serif" font-weight="bold" textLength="46.50" lengthAdjust="spacingAndGlyphs" stroke="#000" stroke-width="0.7">MECH.</text>
<text x="206.20" y="206.60" font-size="15.8" fill="#000" text-anchor="start" font-family="Liberation Serif" font-weight="bold" textLength="48.00" lengthAdjust="spacingAndGlyphs" stroke="#000" stroke-width="0.7">SHAFT</text>
<text x="114.40" y="547.10" font-size="14" fill="#000" text-anchor="start" font-family="Liberation Serif" font-weight="bold" textLength="36.00" lengthAdjust="spacingAndGlyphs" stroke="#000" stroke-width="0.7">MECH.</text>
<text x="114.20" y="562.90" font-size="14" fill="#000" text-anchor="start" font-family="Liberation Serif" font-weight="bold" textLength="66.20" lengthAdjust="spacingAndGlyphs" stroke="#000" stroke-width="0.7">OPENING</text>
<text x="889.40" y="547.20" font-size="14" fill="#000" text-anchor="start" font-family="Liberation Serif" font-weight="bold" textLength="39.00" lengthAdjust="spacingAndGlyphs" stroke="#000" stroke-width="0.7">ELEC.</text>
<text x="889.40" y="563.30" font-size="14" fill="#000" text-anchor="start" font-family="Liberation Serif" font-weight="bold" textLength="129.60" lengthAdjust="spacingAndGlyphs" stroke="#000" stroke-width="0.7">OPENING (UNDER</text>
<text x="1020.50" y="563.30" font-size="10" fill="#000" text-anchor="start" font-weight="bold" >..</text>
<path d="M234.20 391.90L271.20 391.90" stroke="#555" stroke-width="0.9" stroke-dasharray="1.2 1.6 2.5 1.2 0.8 2"/>
<path d="M243.40 394.3H262.80V399.7H243.40ZM252.50 394.3V399.7" fill="none" stroke="#666" stroke-width="1.1"/>
<path d="M241.20 406.30L266.20 406.30" stroke="#444" stroke-width="0.9" />
<path d="M241.20 416.30L266.20 416.30" stroke="#444" stroke-width="0.9" />
<path d="M266.70 406.3l-3 -2.2v4.4ZM267.70 416.3l-3.6 -2.6v5.2Z" fill="#111"/>
<text x="243.70" y="405.20" font-size="3.4" fill="#555" text-anchor="start" textLength="10.00" lengthAdjust="spacingAndGlyphs" >F VSL</text>
<text x="254.70" y="405.40" font-size="3.6" fill="#111" text-anchor="start" font-weight="bold" >FL</text>
<text x="253.20" y="410.30" font-size="3.6" fill="#111" text-anchor="start" font-weight="bold" >FL</text>
<text x="243.70" y="415.20" font-size="3.4" fill="#555" text-anchor="start" textLength="10.00" lengthAdjust="spacingAndGlyphs" >N VSL</text>
<text x="255.00" y="415.40" font-size="3.6" fill="#111" text-anchor="start" font-weight="bold" >FL</text>
<text x="253.20" y="419.60" font-size="3.2" fill="#777" text-anchor="start" >TFL</text>
<path d="M639.20 391.90L676.20 391.90" stroke="#555" stroke-width="0.9" stroke-dasharray="1.2 1.6 2.5 1.2 0.8 2"/>
<path d="M648.40 394.3H667.80V399.7H648.40ZM657.50 394.3V399.7" fill="none" stroke="#666" stroke-width="1.1"/>
<path d="M646.20 406.30L671.20 406.30" stroke="#444" stroke-width="0.9" />
<path d="M646.20 416.30L671.20 416.30" stroke="#444" stroke-width="0.9" />
<path d="M671.70 406.3l-3 -2.2v4.4ZM672.70 416.3l-3.6 -2.6v5.2Z" fill="#111"/>
<text x="648.70" y="405.20" font-size="3.4" fill="#555" text-anchor="start" textLength="10.00" lengthAdjust="spacingAndGlyphs" >F VSL</text>
<text x="659.70" y="405.40" font-size="3.6" fill="#111" text-anchor="start" font-weight="bold" >FL</text>
<text x="658.20" y="410.30" font-size="3.6" fill="#111" text-anchor="start" font-weight="bold" >FL</text>
<text x="648.70" y="415.20" font-size="3.4" fill="#555" text-anchor="start" textLength="10.00" lengthAdjust="spacingAndGlyphs" >N VSL</text>
<text x="660.00" y="415.40" font-size="3.6" fill="#111" text-anchor="start" font-weight="bold" >FL</text>
<text x="658.20" y="419.60" font-size="3.2" fill="#777" text-anchor="start" >TFL</text>
<circle cx="150.50" cy="269.90" r="7.2" fill="#0560f0" fill-opacity="0.84" stroke="#0c3c9e" stroke-width="1" stroke-opacity="0.9"/>
<rect x="150.10" y="269.40" width="51.0" height="27.9" rx="9.2" fill="#0560f0" fill-opacity="0.84" stroke="#0c3c9e" stroke-width="1" stroke-opacity="0.9"/>
<text x="153.70" y="279.60" font-size="10" fill="#0a2364" text-anchor="start" textLength="40.03" lengthAdjust="spacingAndGlyphs" stroke="#0a2364" stroke-width="0.3">T: 23.68</text>
<text x="152.50" y="290.00" font-size="10" fill="#0a2364" text-anchor="start" textLength="42.53" lengthAdjust="spacingAndGlyphs" stroke="#0a2364" stroke-width="0.3">H: 79.86</text>
<circle cx="251.70" cy="260.00" r="7.2" fill="#0560f0" fill-opacity="0.84" stroke="#0c3c9e" stroke-width="1" stroke-opacity="0.9"/>
<rect x="251.30" y="259.50" width="51.0" height="27.9" rx="9.2" fill="#0560f0" fill-opacity="0.84" stroke="#0c3c9e" stroke-width="1" stroke-opacity="0.9"/>
<text x="254.90" y="269.70" font-size="10" fill="#0a2364" text-anchor="start" textLength="33.77" lengthAdjust="spacingAndGlyphs" stroke="#0a2364" stroke-width="0.3">T: 23.9</text>
<text x="253.70" y="280.10" font-size="10" fill="#0a2364" text-anchor="start" textLength="42.53" lengthAdjust="spacingAndGlyphs" stroke="#0a2364" stroke-width="0.3">H: 78.68</text>
<circle cx="359.00" cy="256.20" r="7.2" fill="#0560f0" fill-opacity="0.84" stroke="#0c3c9e" stroke-width="1" stroke-opacity="0.9"/>
<rect x="358.60" y="255.70" width="51.0" height="27.9" rx="9.2" fill="#0560f0" fill-opacity="0.84" stroke="#0c3c9e" stroke-width="1" stroke-opacity="0.9"/>
<text x="362.20" y="265.90" font-size="10" fill="#0a2364" text-anchor="start" textLength="40.03" lengthAdjust="spacingAndGlyphs" stroke="#0a2364" stroke-width="0.3">T: 23.92</text>
<text x="361.00" y="276.30" font-size="10" fill="#0a2364" text-anchor="start" textLength="36.27" lengthAdjust="spacingAndGlyphs" stroke="#0a2364" stroke-width="0.3">H: 76.3</text>
<circle cx="160.20" cy="398.10" r="7.2" fill="#00a3f0" fill-opacity="0.84" stroke="#0a78b8" stroke-width="1" stroke-opacity="0.9"/>
<rect x="159.80" y="397.60" width="51.0" height="27.9" rx="9.2" fill="#00a3f0" fill-opacity="0.84" stroke="#0a78b8" stroke-width="1" stroke-opacity="0.9"/>
<text x="163.40" y="407.80" font-size="10" fill="#093752" text-anchor="start" textLength="40.03" lengthAdjust="spacingAndGlyphs" stroke="#093752" stroke-width="0.3">T: 24.32</text>
<text x="162.20" y="418.20" font-size="10" fill="#093752" text-anchor="start" textLength="42.53" lengthAdjust="spacingAndGlyphs" stroke="#093752" stroke-width="0.3">H: 77.22</text>
<circle cx="256.20" cy="395.40" r="7.2" fill="#0560f0" fill-opacity="0.84" stroke="#0c3c9e" stroke-width="1" stroke-opacity="0.9"/>
<rect x="255.80" y="394.90" width="51.0" height="27.9" rx="9.2" fill="#0560f0" fill-opacity="0.84" stroke="#0c3c9e" stroke-width="1" stroke-opacity="0.9"/>
<text x="259.40" y="405.10" font-size="10" fill="#0a2364" text-anchor="start" textLength="40.03" lengthAdjust="spacingAndGlyphs" stroke="#0a2364" stroke-width="0.3">T: 23.55</text>
<text x="258.20" y="415.50" font-size="10" fill="#0a2364" text-anchor="start" textLength="36.27" lengthAdjust="spacingAndGlyphs" stroke="#0a2364" stroke-width="0.3">H: 78.9</text>
<circle cx="355.00" cy="410.60" r="7.2" fill="#0560f0" fill-opacity="0.84" stroke="#0c3c9e" stroke-width="1" stroke-opacity="0.9"/>
<rect x="354.60" y="410.10" width="51.0" height="27.9" rx="9.2" fill="#0560f0" fill-opacity="0.84" stroke="#0c3c9e" stroke-width="1" stroke-opacity="0.9"/>
<text x="358.20" y="420.30" font-size="10" fill="#0a2364" text-anchor="start" textLength="40.03" lengthAdjust="spacingAndGlyphs" stroke="#0a2364" stroke-width="0.3">T: 23.66</text>
<text x="357.00" y="430.70" font-size="10" fill="#0a2364" text-anchor="start" textLength="42.53" lengthAdjust="spacingAndGlyphs" stroke="#0a2364" stroke-width="0.3">H: 79.22</text>
<circle cx="149.00" cy="526.10" r="7.2" fill="#00a3f0" fill-opacity="0.84" stroke="#0a78b8" stroke-width="1" stroke-opacity="0.9"/>
<rect x="148.60" y="525.60" width="51.0" height="27.9" rx="9.2" fill="#00a3f0" fill-opacity="0.84" stroke="#0a78b8" stroke-width="1" stroke-opacity="0.9"/>
<text x="152.20" y="535.80" font-size="10" fill="#093752" text-anchor="start" textLength="40.03" lengthAdjust="spacingAndGlyphs" stroke="#093752" stroke-width="0.3">T: 24.19</text>
<text x="151.00" y="546.20" font-size="10" fill="#093752" text-anchor="start" textLength="42.53" lengthAdjust="spacingAndGlyphs" stroke="#093752" stroke-width="0.3">H: 76.25</text>
<circle cx="259.60" cy="531.00" r="7.2" fill="#00a3f0" fill-opacity="0.84" stroke="#0a78b8" stroke-width="1" stroke-opacity="0.9"/>
<rect x="259.20" y="530.50" width="51.0" height="27.9" rx="9.2" fill="#00a3f0" fill-opacity="0.84" stroke="#0a78b8" stroke-width="1" stroke-opacity="0.9"/>
<text x="262.80" y="540.70" font-size="10" fill="#093752" text-anchor="start" textLength="40.03" lengthAdjust="spacingAndGlyphs" stroke="#093752" stroke-width="0.3">T: 25.56</text>
<text x="261.60" y="551.10" font-size="10" fill="#093752" text-anchor="start" textLength="42.53" lengthAdjust="spacingAndGlyphs" stroke="#093752" stroke-width="0.3">H: 70.85</text>
<circle cx="361.00" cy="519.30" r="7.2" fill="#0560f0" fill-opacity="0.84" stroke="#0c3c9e" stroke-width="1" stroke-opacity="0.9"/>
<rect x="360.60" y="518.80" width="51.0" height="27.9" rx="9.2" fill="#0560f0" fill-opacity="0.84" stroke="#0c3c9e" stroke-width="1" stroke-opacity="0.9"/>
<text x="364.20" y="529.00" font-size="10" fill="#0a2364" text-anchor="start" textLength="40.03" lengthAdjust="spacingAndGlyphs" stroke="#0a2364" stroke-width="0.3">T: 23.44</text>
<text x="363.00" y="539.40" font-size="10" fill="#0a2364" text-anchor="start" textLength="42.53" lengthAdjust="spacingAndGlyphs" stroke="#0a2364" stroke-width="0.3">H: 81.07</text>
<circle cx="459.00" cy="263.00" r="7.2" fill="#0560f0" fill-opacity="0.84" stroke="#0c3c9e" stroke-width="1" stroke-opacity="0.9"/>
<rect x="458.60" y="262.50" width="51.0" height="27.9" rx="9.2" fill="#0560f0" fill-opacity="0.84" stroke="#0c3c9e" stroke-width="1" stroke-opacity="0.9"/>
<text x="462.20" y="272.70" font-size="10" fill="#0a2364" text-anchor="start" textLength="40.03" lengthAdjust="spacingAndGlyphs" stroke="#0a2364" stroke-width="0.3">T: 23.23</text>
<text x="461.00" y="283.10" font-size="10" fill="#0a2364" text-anchor="start" textLength="42.53" lengthAdjust="spacingAndGlyphs" stroke="#0a2364" stroke-width="0.3">H: 79.06</text>
<circle cx="560.00" cy="333.60" r="7.2" fill="#0560f0" fill-opacity="0.84" stroke="#0c3c9e" stroke-width="1" stroke-opacity="0.9"/>
<rect x="559.60" y="333.10" width="51.0" height="27.9" rx="9.2" fill="#0560f0" fill-opacity="0.84" stroke="#0c3c9e" stroke-width="1" stroke-opacity="0.9"/>
<text x="563.20" y="343.30" font-size="10" fill="#0a2364" text-anchor="start" textLength="40.03" lengthAdjust="spacingAndGlyphs" stroke="#0a2364" stroke-width="0.3">T: 22.97</text>
<text x="562.00" y="353.70" font-size="10" fill="#0a2364" text-anchor="start" textLength="42.53" lengthAdjust="spacingAndGlyphs" stroke="#0a2364" stroke-width="0.3">H: 81.78</text>
<circle cx="663.60" cy="337.10" r="7.2" fill="#0560f0" fill-opacity="0.84" stroke="#0c3c9e" stroke-width="1" stroke-opacity="0.9"/>
<rect x="663.20" y="336.60" width="51.0" height="27.9" rx="9.2" fill="#0560f0" fill-opacity="0.84" stroke="#0c3c9e" stroke-width="1" stroke-opacity="0.9"/>
<text x="666.80" y="346.80" font-size="10" fill="#0a2364" text-anchor="start" textLength="40.03" lengthAdjust="spacingAndGlyphs" stroke="#0a2364" stroke-width="0.3">T: 22.97</text>
<text x="665.60" y="357.20" font-size="10" fill="#0a2364" text-anchor="start" textLength="42.53" lengthAdjust="spacingAndGlyphs" stroke="#0a2364" stroke-width="0.3">H: 81.44</text>
<circle cx="460.00" cy="391.30" r="7.2" fill="#0560f0" fill-opacity="0.84" stroke="#0c3c9e" stroke-width="1" stroke-opacity="0.9"/>
<rect x="459.60" y="390.80" width="51.0" height="27.9" rx="9.2" fill="#0560f0" fill-opacity="0.84" stroke="#0c3c9e" stroke-width="1" stroke-opacity="0.9"/>
<text x="463.20" y="401.00" font-size="10" fill="#0a2364" text-anchor="start" textLength="40.03" lengthAdjust="spacingAndGlyphs" stroke="#0a2364" stroke-width="0.3">T: 23.64</text>
<text x="462.00" y="411.40" font-size="10" fill="#0a2364" text-anchor="start" textLength="42.53" lengthAdjust="spacingAndGlyphs" stroke="#0a2364" stroke-width="0.3">H: 79.42</text>
<circle cx="452.00" cy="507.10" r="7.2" fill="#0560f0" fill-opacity="0.84" stroke="#0c3c9e" stroke-width="1" stroke-opacity="0.9"/>
<rect x="451.60" y="506.60" width="51.0" height="27.9" rx="9.2" fill="#0560f0" fill-opacity="0.84" stroke="#0c3c9e" stroke-width="1" stroke-opacity="0.9"/>
<text x="455.20" y="516.80" font-size="10" fill="#0a2364" text-anchor="start" textLength="40.03" lengthAdjust="spacingAndGlyphs" stroke="#0a2364" stroke-width="0.3">T: 23.33</text>
<text x="454.00" y="527.20" font-size="10" fill="#0a2364" text-anchor="start" textLength="42.53" lengthAdjust="spacingAndGlyphs" stroke="#0a2364" stroke-width="0.3">H: 81.07</text>
<circle cx="561.00" cy="484.60" r="7.2" fill="#0560f0" fill-opacity="0.84" stroke="#0c3c9e" stroke-width="1" stroke-opacity="0.9"/>
<rect x="560.60" y="484.10" width="51.0" height="27.9" rx="9.2" fill="#0560f0" fill-opacity="0.84" stroke="#0c3c9e" stroke-width="1" stroke-opacity="0.9"/>
<text x="564.20" y="494.30" font-size="10" fill="#0a2364" text-anchor="start" textLength="40.03" lengthAdjust="spacingAndGlyphs" stroke="#0a2364" stroke-width="0.3">T: 23.25</text>
<text x="563.00" y="504.70" font-size="10" fill="#0a2364" text-anchor="start" textLength="42.53" lengthAdjust="spacingAndGlyphs" stroke="#0a2364" stroke-width="0.3">H: 80.63</text>
<circle cx="665.20" cy="484.60" r="7.2" fill="#0560f0" fill-opacity="0.84" stroke="#0c3c9e" stroke-width="1" stroke-opacity="0.9"/>
<rect x="664.80" y="484.10" width="51.0" height="27.9" rx="9.2" fill="#0560f0" fill-opacity="0.84" stroke="#0c3c9e" stroke-width="1" stroke-opacity="0.9"/>
<text x="668.40" y="494.30" font-size="10" fill="#0a2364" text-anchor="start" textLength="40.03" lengthAdjust="spacingAndGlyphs" stroke="#0a2364" stroke-width="0.3">T: 22.72</text>
<text x="667.20" y="504.70" font-size="10" fill="#0a2364" text-anchor="start" textLength="42.53" lengthAdjust="spacingAndGlyphs" stroke="#0a2364" stroke-width="0.3">H: 82.89</text>
<circle cx="763.50" cy="271.30" r="7.2" fill="#00a3f0" fill-opacity="0.84" stroke="#0a78b8" stroke-width="1" stroke-opacity="0.9"/>
<rect x="763.10" y="270.80" width="51.0" height="27.9" rx="9.2" fill="#00a3f0" fill-opacity="0.84" stroke="#0a78b8" stroke-width="1" stroke-opacity="0.9"/>
<text x="766.70" y="281.00" font-size="10" fill="#093752" text-anchor="start" textLength="40.03" lengthAdjust="spacingAndGlyphs" stroke="#093752" stroke-width="0.3">T: 24.08</text>
<text x="765.50" y="291.40" font-size="10" fill="#093752" text-anchor="start" textLength="42.53" lengthAdjust="spacingAndGlyphs" stroke="#093752" stroke-width="0.3">H: 78.16</text>
<circle cx="861.20" cy="267.80" r="7.2" fill="#0560f0" fill-opacity="0.84" stroke="#0c3c9e" stroke-width="1" stroke-opacity="0.9"/>
<rect x="860.80" y="267.30" width="51.0" height="27.9" rx="9.2" fill="#0560f0" fill-opacity="0.84" stroke="#0c3c9e" stroke-width="1" stroke-opacity="0.9"/>
<text x="864.40" y="277.50" font-size="10" fill="#0a2364" text-anchor="start" textLength="40.03" lengthAdjust="spacingAndGlyphs" stroke="#0a2364" stroke-width="0.3">T: 22.98</text>
<text x="863.20" y="287.90" font-size="10" fill="#0a2364" text-anchor="start" textLength="42.53" lengthAdjust="spacingAndGlyphs" stroke="#0a2364" stroke-width="0.3">H: 82.59</text>
<circle cx="958.50" cy="271.30" r="7.2" fill="#0560f0" fill-opacity="0.84" stroke="#0c3c9e" stroke-width="1" stroke-opacity="0.9"/>
<rect x="958.10" y="270.80" width="51.0" height="27.9" rx="9.2" fill="#0560f0" fill-opacity="0.84" stroke="#0c3c9e" stroke-width="1" stroke-opacity="0.9"/>
<text x="961.70" y="281.00" font-size="10" fill="#0a2364" text-anchor="start" textLength="40.03" lengthAdjust="spacingAndGlyphs" stroke="#0a2364" stroke-width="0.3">T: 22.91</text>
<text x="960.50" y="291.40" font-size="10" fill="#0a2364" text-anchor="start" textLength="42.53" lengthAdjust="spacingAndGlyphs" stroke="#0a2364" stroke-width="0.3">H: 81.27</text>
<circle cx="764.50" cy="367.80" r="7.2" fill="#0560f0" fill-opacity="0.84" stroke="#0c3c9e" stroke-width="1" stroke-opacity="0.9"/>
<rect x="764.10" y="367.30" width="51.0" height="27.9" rx="9.2" fill="#0560f0" fill-opacity="0.84" stroke="#0c3c9e" stroke-width="1" stroke-opacity="0.9"/>
<text x="767.70" y="377.50" font-size="10" fill="#0a2364" text-anchor="start" textLength="40.03" lengthAdjust="spacingAndGlyphs" stroke="#0a2364" stroke-width="0.3">T: 22.74</text>
<text x="766.50" y="387.90" font-size="10" fill="#0a2364" text-anchor="start" textLength="42.53" lengthAdjust="spacingAndGlyphs" stroke="#0a2364" stroke-width="0.3">H: 82.76</text>
<circle cx="858.80" cy="391.10" r="7.2" fill="#0560f0" fill-opacity="0.84" stroke="#0c3c9e" stroke-width="1" stroke-opacity="0.9"/>
<rect x="858.40" y="390.60" width="51.0" height="27.9" rx="9.2" fill="#0560f0" fill-opacity="0.84" stroke="#0c3c9e" stroke-width="1" stroke-opacity="0.9"/>
<text x="862.00" y="400.80" font-size="10" fill="#0a2364" text-anchor="start" textLength="33.77" lengthAdjust="spacingAndGlyphs" stroke="#0a2364" stroke-width="0.3">T: 22.3</text>
<text x="860.80" y="411.20" font-size="10" fill="#0a2364" text-anchor="start" textLength="36.27" lengthAdjust="spacingAndGlyphs" stroke="#0a2364" stroke-width="0.3">H: 83.2</text>
<circle cx="961.00" cy="417.80" r="7.2" fill="#0560f0" fill-opacity="0.84" stroke="#0c3c9e" stroke-width="1" stroke-opacity="0.9"/>
<rect x="960.60" y="417.30" width="51.0" height="27.9" rx="9.2" fill="#0560f0" fill-opacity="0.84" stroke="#0c3c9e" stroke-width="1" stroke-opacity="0.9"/>
<text x="964.20" y="427.50" font-size="10" fill="#0a2364" text-anchor="start" textLength="40.03" lengthAdjust="spacingAndGlyphs" stroke="#0a2364" stroke-width="0.3">T: 22.36</text>
<text x="963.00" y="437.90" font-size="10" fill="#0a2364" text-anchor="start" textLength="42.53" lengthAdjust="spacingAndGlyphs" stroke="#0a2364" stroke-width="0.3">H: 84.64</text>
<circle cx="758.50" cy="477.10" r="7.2" fill="#0560f0" fill-opacity="0.84" stroke="#0c3c9e" stroke-width="1" stroke-opacity="0.9"/>
<rect x="758.10" y="476.60" width="51.0" height="27.9" rx="9.2" fill="#0560f0" fill-opacity="0.84" stroke="#0c3c9e" stroke-width="1" stroke-opacity="0.9"/>
<text x="761.70" y="486.80" font-size="10" fill="#0a2364" text-anchor="start" textLength="40.03" lengthAdjust="spacingAndGlyphs" stroke="#0a2364" stroke-width="0.3">T: 22.65</text>
<text x="760.50" y="497.20" font-size="10" fill="#0a2364" text-anchor="start" textLength="42.53" lengthAdjust="spacingAndGlyphs" stroke="#0a2364" stroke-width="0.3">H: 84.26</text>
<circle cx="856.80" cy="512.10" r="7.2" fill="#0560f0" fill-opacity="0.84" stroke="#0c3c9e" stroke-width="1" stroke-opacity="0.9"/>
<rect x="856.40" y="511.60" width="51.0" height="27.9" rx="9.2" fill="#0560f0" fill-opacity="0.84" stroke="#0c3c9e" stroke-width="1" stroke-opacity="0.9"/>
<text x="860.00" y="521.80" font-size="10" fill="#0a2364" text-anchor="start" textLength="40.03" lengthAdjust="spacingAndGlyphs" stroke="#0a2364" stroke-width="0.3">T: 22.27</text>
<text x="858.80" y="532.20" font-size="10" fill="#0a2364" text-anchor="start" textLength="42.53" lengthAdjust="spacingAndGlyphs" stroke="#0a2364" stroke-width="0.3">H: 86.39</text>
<circle cx="968.20" cy="511.30" r="7.2" fill="#0560f0" fill-opacity="0.84" stroke="#0c3c9e" stroke-width="1" stroke-opacity="0.9"/>
<rect x="967.80" y="510.80" width="51.0" height="27.9" rx="9.2" fill="#0560f0" fill-opacity="0.84" stroke="#0c3c9e" stroke-width="1" stroke-opacity="0.9"/>
<text x="971.40" y="521.00" font-size="10" fill="#0a2364" text-anchor="start" textLength="33.77" lengthAdjust="spacingAndGlyphs" stroke="#0a2364" stroke-width="0.3">T: 22.4</text>
<text x="970.20" y="531.40" font-size="10" fill="#0a2364" text-anchor="start" textLength="42.53" lengthAdjust="spacingAndGlyphs" stroke="#0a2364" stroke-width="0.3">H: 84.66</text></svg>
<div class="b" style="left:0.00px;top:651.00px;width:1280.00px;height:69.00px;background:#ffffff;"></div>
<div class="b" style="left:0.00px;top:650.00px;width:40.00px;height:1.50px;background:#444;"></div>
<div class="b" style="left:40.00px;top:650.00px;width:286.00px;height:1.50px;background:#dcdcdc;"></div>
<div class="b" style="left:326.00px;top:650.00px;width:954.00px;height:1.50px;background:#444;"></div>
<span class="t" style="left:38.62px;top:656.62px;font-size:55.5px;line-height:55.5px;color:#000;transform:scaleX(0.9317);-webkit-text-stroke:0.55px #000;">Commissioning</span>
<span class="t" style="left:407.49px;top:656.62px;font-size:55.5px;line-height:55.5px;color:#000;transform:scaleX(1.0786);-webkit-text-stroke:0.55px #000;">of</span>
<span class="t" style="left:470.54px;top:656.62px;font-size:55.5px;line-height:55.5px;color:#000;transform:scaleX(0.8331);-webkit-text-stroke:0.55px #000;">a</span>
<span class="t" style="left:516.52px;top:656.62px;font-size:55.5px;line-height:55.5px;color:#000;transform:scaleX(0.9715);-webkit-text-stroke:0.55px #000;">big</span>
<span class="t" style="left:603.29px;top:656.62px;font-size:55.5px;line-height:55.5px;color:#000;transform:scaleX(0.9252);-webkit-text-stroke:0.55px #000;">Data</span>
<span class="t" style="left:731.13px;top:656.62px;font-size:55.5px;line-height:55.5px;color:#000;transform:scaleX(0.9288);-webkit-text-stroke:0.55px #000;">Center</span>
<span class="t" style="left:901.87px;top:656.62px;font-size:55.5px;line-height:55.5px;color:#000;transform:scaleX(0.9783);-webkit-text-stroke:0.55px #000;">in</span>
<span class="t" style="left:959.50px;top:656.62px;font-size:55.5px;line-height:55.5px;color:#000;transform:scaleX(0.9217);-webkit-text-stroke:0.55px #000;">Jeddah</span>
<span class="t" style="left:1149.19px;top:656.62px;font-size:55.5px;line-height:55.5px;color:#000;transform:scaleX(0.8149);-webkit-text-stroke:0.55px #000;">KSA</span>
<svg class="b" style="left:1120px;top:655px" width="35" height="62" viewBox="1120 655 35 62"><path d="M1127.5 711.8H1132.7L1147.4 662.6H1142.2Z" fill="#000"/></svg>
</body></html>
